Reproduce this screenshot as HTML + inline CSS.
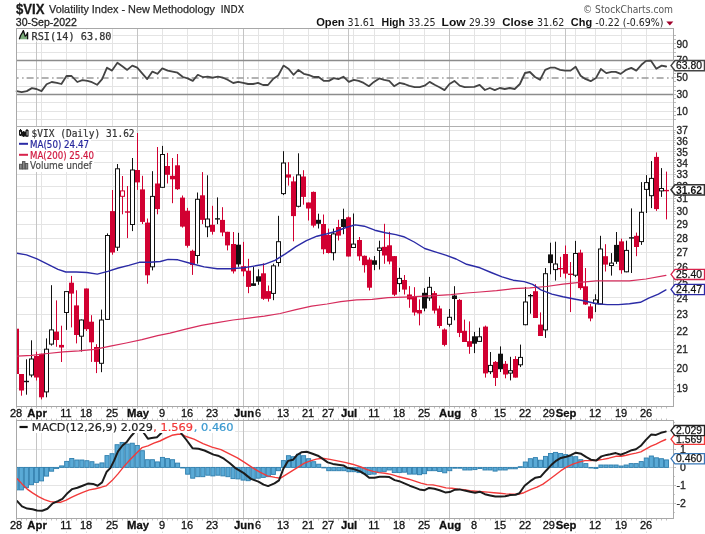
<!DOCTYPE html><html><head><meta charset="utf-8"><title>$VIX Chart</title><style>html,body{margin:0;padding:0;background:#fff;overflow:hidden}svg{display:block;will-change:transform}</style></head><body><svg width="705" height="534" viewBox="0 0 705 534" shape-rendering="auto">
<rect width="705" height="534" fill="#fff"/>
<defs><clipPath id="cp"><rect x="17" y="127" width="656" height="279"/></clipPath><clipPath id="cm"><rect x="17" y="421" width="656" height="97"/></clipPath><clipPath id="cr"><rect x="17" y="29" width="656" height="97"/></clipPath></defs>
<text x="16" y="14.2" font-size="15" font-weight="bold" fill="#1a1a1a" font-family="'Liberation Sans', Arial, sans-serif" textLength="28.5" lengthAdjust="spacingAndGlyphs" stroke="#1a1a1a" stroke-width="0.3">$VIX</text>
<text x="49" y="13.1" font-size="11.2" fill="#2a2a2a" font-family="'Liberation Sans', Arial, sans-serif" textLength="166" lengthAdjust="spacingAndGlyphs" stroke="#2a2a2a" stroke-width="0.25">Volatility Index - New Methodology</text>
<text x="220.8" y="12.9" font-size="9.6" fill="#222" font-family="'DejaVu Sans', Verdana, sans-serif" textLength="23.2" lengthAdjust="spacingAndGlyphs" stroke="#222" stroke-width="0.2">INDX</text>
<text x="15.8" y="26" font-size="11" fill="#222" font-family="'Liberation Sans', Arial, sans-serif" textLength="61" lengthAdjust="spacingAndGlyphs" stroke="#222" stroke-width="0.3">30-Sep-2022</text>
<text x="316.2" y="26.2" font-size="11" font-weight="bold" fill="#111" font-family="'Liberation Sans', Arial, sans-serif" textLength="28.5" lengthAdjust="spacingAndGlyphs">Open</text>
<text x="347.6" y="26.2" font-size="9.6" fill="#222" font-family="'DejaVu Sans', Verdana, sans-serif" textLength="27.3" lengthAdjust="spacingAndGlyphs">31.61</text>
<text x="381.5" y="26.2" font-size="11" font-weight="bold" fill="#111" font-family="'Liberation Sans', Arial, sans-serif" textLength="23.5" lengthAdjust="spacingAndGlyphs">High</text>
<text x="408.3" y="26.2" font-size="9.6" fill="#222" font-family="'DejaVu Sans', Verdana, sans-serif" textLength="27.3" lengthAdjust="spacingAndGlyphs">33.25</text>
<text x="441.6" y="26.2" font-size="11" font-weight="bold" fill="#111" font-family="'Liberation Sans', Arial, sans-serif" textLength="24" lengthAdjust="spacingAndGlyphs">Low</text>
<text x="469" y="26.2" font-size="9.6" fill="#222" font-family="'DejaVu Sans', Verdana, sans-serif" textLength="26.3" lengthAdjust="spacingAndGlyphs">29.39</text>
<text x="502.3" y="26.2" font-size="11" font-weight="bold" fill="#111" font-family="'Liberation Sans', Arial, sans-serif" textLength="31.3" lengthAdjust="spacingAndGlyphs">Close</text>
<text x="537" y="26.2" font-size="9.6" fill="#222" font-family="'DejaVu Sans', Verdana, sans-serif" textLength="27.3" lengthAdjust="spacingAndGlyphs">31.62</text>
<text x="570.8" y="26.2" font-size="11" font-weight="bold" fill="#111" font-family="'Liberation Sans', Arial, sans-serif" textLength="21.3" lengthAdjust="spacingAndGlyphs">Chg</text>
<text x="595.3" y="26.2" font-size="9.6" fill="#222" font-family="'DejaVu Sans', Verdana, sans-serif" textLength="68.2" lengthAdjust="spacingAndGlyphs">-0.22 (-0.69%)</text>
<path d="M666.3,21.4 L673.3,21.4 L669.8,25.6 Z" fill="#a0002a"/>
<text x="583" y="12.9" font-size="10.6" fill="#555" font-family="'DejaVu Sans', Verdana, sans-serif" textLength="90" lengthAdjust="spacingAndGlyphs">&#169; StockCharts.com</text>
<line x1="16" y1="119.5" x2="673" y2="119.5" stroke="#e4e4e4" stroke-width="1"/>
<line x1="16" y1="111.5" x2="673" y2="111.5" stroke="#e4e4e4" stroke-width="1"/>
<line x1="16" y1="102.5" x2="673" y2="102.5" stroke="#e4e4e4" stroke-width="1"/>
<line x1="16" y1="86.5" x2="673" y2="86.5" stroke="#e4e4e4" stroke-width="1"/>
<line x1="16" y1="69.5" x2="673" y2="69.5" stroke="#e4e4e4" stroke-width="1"/>
<line x1="16" y1="52.5" x2="673" y2="52.5" stroke="#e4e4e4" stroke-width="1"/>
<line x1="16" y1="43.5" x2="673" y2="43.5" stroke="#e4e4e4" stroke-width="1"/>
<line x1="16" y1="35.5" x2="673" y2="35.5" stroke="#e4e4e4" stroke-width="1"/>
<line x1="41.5" y1="28" x2="41.5" y2="126" stroke="#e4e4e4" stroke-width="1"/>
<line x1="66.5" y1="28" x2="66.5" y2="126" stroke="#e4e4e4" stroke-width="1"/>
<line x1="86.5" y1="28" x2="86.5" y2="126" stroke="#e4e4e4" stroke-width="1"/>
<line x1="112.5" y1="28" x2="112.5" y2="126" stroke="#e4e4e4" stroke-width="1"/>
<line x1="162.5" y1="28" x2="162.5" y2="126" stroke="#e4e4e4" stroke-width="1"/>
<line x1="187.5" y1="28" x2="187.5" y2="126" stroke="#e4e4e4" stroke-width="1"/>
<line x1="212.5" y1="28" x2="212.5" y2="126" stroke="#e4e4e4" stroke-width="1"/>
<line x1="238.5" y1="28" x2="238.5" y2="126" stroke="#e4e4e4" stroke-width="1"/>
<line x1="258.5" y1="28" x2="258.5" y2="126" stroke="#e4e4e4" stroke-width="1"/>
<line x1="283.5" y1="28" x2="283.5" y2="126" stroke="#e4e4e4" stroke-width="1"/>
<line x1="308.5" y1="28" x2="308.5" y2="126" stroke="#e4e4e4" stroke-width="1"/>
<line x1="328.5" y1="28" x2="328.5" y2="126" stroke="#e4e4e4" stroke-width="1"/>
<line x1="353.5" y1="28" x2="353.5" y2="126" stroke="#e4e4e4" stroke-width="1"/>
<line x1="374.5" y1="28" x2="374.5" y2="126" stroke="#e4e4e4" stroke-width="1"/>
<line x1="399.5" y1="28" x2="399.5" y2="126" stroke="#e4e4e4" stroke-width="1"/>
<line x1="424.5" y1="28" x2="424.5" y2="126" stroke="#e4e4e4" stroke-width="1"/>
<line x1="474.5" y1="28" x2="474.5" y2="126" stroke="#e4e4e4" stroke-width="1"/>
<line x1="500.5" y1="28" x2="500.5" y2="126" stroke="#e4e4e4" stroke-width="1"/>
<line x1="525.5" y1="28" x2="525.5" y2="126" stroke="#e4e4e4" stroke-width="1"/>
<line x1="550.5" y1="28" x2="550.5" y2="126" stroke="#e4e4e4" stroke-width="1"/>
<line x1="575.5" y1="28" x2="575.5" y2="126" stroke="#e4e4e4" stroke-width="1"/>
<line x1="595.5" y1="28" x2="595.5" y2="126" stroke="#e4e4e4" stroke-width="1"/>
<line x1="621.5" y1="28" x2="621.5" y2="126" stroke="#e4e4e4" stroke-width="1"/>
<line x1="646.5" y1="28" x2="646.5" y2="126" stroke="#e4e4e4" stroke-width="1"/>
<line x1="36.5" y1="28" x2="36.5" y2="126" stroke="#c4c4c4" stroke-width="1"/>
<line x1="137.5" y1="28" x2="137.5" y2="126" stroke="#c4c4c4" stroke-width="1"/>
<line x1="243.5" y1="28" x2="243.5" y2="126" stroke="#c4c4c4" stroke-width="1"/>
<line x1="348.5" y1="28" x2="348.5" y2="126" stroke="#c4c4c4" stroke-width="1"/>
<line x1="449.5" y1="28" x2="449.5" y2="126" stroke="#c4c4c4" stroke-width="1"/>
<line x1="565.5" y1="28" x2="565.5" y2="126" stroke="#c4c4c4" stroke-width="1"/>
<line x1="16" y1="60.5" x2="673" y2="60.5" stroke="#8c8c8c" stroke-width="1.6"/>
<line x1="16" y1="94.5" x2="673" y2="94.5" stroke="#8c8c8c" stroke-width="1.6"/>
<line x1="16" y1="78" x2="673" y2="78" stroke="#999" stroke-width="1.4" stroke-dasharray="7,3.5,1.5,3" stroke-dashoffset="4.4"/>
<polyline points="16.6,91.1 21.7,92.2 26.8,91.1 31.9,88.1 36.4,89.0 41.5,91.1 46.6,84.3 51.7,82.0 56.9,82.8 61.4,84.0 66.5,76.0 71.6,76.0 77.3,82.0 82.4,80.2 87.5,80.9 92.0,82.2 97.1,84.8 102.1,79.1 107.0,67.7 112.0,70.6 117.4,62.8 122.3,66.3 127.2,69.9 132.3,65.6 137.2,67.7 142.2,73.4 147.2,79.1 152.4,71.6 157.4,73.8 162.3,68.4 167.7,70.6 172.6,71.6 177.5,72.7 182.9,77.0 187.6,78.4 192.8,80.9 197.8,74.8 203.2,77.2 207.7,76.7 212.7,77.7 217.9,76.7 223.0,77.7 227.6,79.8 233.2,83.0 238.2,81.9 243.2,82.9 248.1,84.0 253.1,84.0 258.0,82.9 263.0,85.0 268.0,85.0 273.0,79.1 278.2,75.5 283.5,65.6 288.8,69.1 293.5,74.8 298.4,69.9 303.8,73.8 309.1,75.1 314.0,77.0 318.6,77.0 324.0,80.9 328.9,80.9 333.9,78.1 338.4,79.1 343.4,76.7 348.8,81.9 353.8,79.8 358.7,80.9 363.7,82.9 368.9,86.2 373.9,81.9 379.3,78.4 384.2,79.8 389.2,80.9 394.1,86.2 399.4,82.9 404.5,84.0 409.3,85.9 414.7,87.2 419.7,87.2 424.6,85.7 429.6,81.9 434.6,84.8 439.5,87.2 444.5,90.1 449.5,84.0 454.4,80.9 459.7,85.7 464.6,87.2 474.3,86.9 479.6,84.8 484.9,90.0 489.9,88.0 494.8,90.1 499.8,88.0 504.8,89.0 509.7,88.0 514.7,89.0 519.9,84.0 525.0,73.0 529.9,72.0 535.0,77.0 540.0,79.8 545.2,69.9 550.1,67.7 555.1,67.7 560.1,69.9 565.0,70.6 570.5,70.6 575.6,66.8 580.6,75.7 585.3,78.9 590.7,81.2 595.9,78.1 600.9,69.0 606.3,73.1 611.5,71.8 615.7,71.8 620.7,73.9 626.2,69.8 631.3,67.9 636.3,70.6 641.4,64.8 646.1,60.9 650.8,60.6 656.3,68.7 661.7,65.6 666.1,66.5" fill="none" stroke="#444" stroke-width="1.8" stroke-linejoin="round" stroke-linecap="round"/>
<line x1="673" y1="119.5" x2="676" y2="119.5" stroke="#bbb" stroke-width="1"/>
<line x1="673" y1="115.5" x2="676" y2="115.5" stroke="#bbb" stroke-width="1"/>
<line x1="673" y1="111.5" x2="676" y2="111.5" stroke="#bbb" stroke-width="1"/>
<line x1="673" y1="107.5" x2="676" y2="107.5" stroke="#bbb" stroke-width="1"/>
<line x1="673" y1="102.5" x2="676" y2="102.5" stroke="#bbb" stroke-width="1"/>
<line x1="673" y1="98.5" x2="676" y2="98.5" stroke="#bbb" stroke-width="1"/>
<line x1="673" y1="94.5" x2="676" y2="94.5" stroke="#bbb" stroke-width="1"/>
<line x1="673" y1="90.5" x2="676" y2="90.5" stroke="#bbb" stroke-width="1"/>
<line x1="673" y1="86.5" x2="676" y2="86.5" stroke="#bbb" stroke-width="1"/>
<line x1="673" y1="81.5" x2="676" y2="81.5" stroke="#bbb" stroke-width="1"/>
<line x1="673" y1="77.5" x2="676" y2="77.5" stroke="#bbb" stroke-width="1"/>
<line x1="673" y1="73.5" x2="676" y2="73.5" stroke="#bbb" stroke-width="1"/>
<line x1="673" y1="69.5" x2="676" y2="69.5" stroke="#bbb" stroke-width="1"/>
<line x1="673" y1="65.5" x2="676" y2="65.5" stroke="#bbb" stroke-width="1"/>
<line x1="673" y1="60.5" x2="676" y2="60.5" stroke="#bbb" stroke-width="1"/>
<line x1="673" y1="56.5" x2="676" y2="56.5" stroke="#bbb" stroke-width="1"/>
<line x1="673" y1="52.5" x2="676" y2="52.5" stroke="#bbb" stroke-width="1"/>
<line x1="673" y1="48.5" x2="676" y2="48.5" stroke="#bbb" stroke-width="1"/>
<line x1="673" y1="43.5" x2="676" y2="43.5" stroke="#bbb" stroke-width="1"/>
<line x1="673" y1="39.5" x2="676" y2="39.5" stroke="#bbb" stroke-width="1"/>
<line x1="673" y1="35.5" x2="676" y2="35.5" stroke="#bbb" stroke-width="1"/>
<text x="676.5" y="47.629999999999995" font-size="10.5" fill="#222" font-family="'Liberation Sans', Arial, sans-serif" textLength="11.3" lengthAdjust="spacingAndGlyphs" stroke="#222" stroke-width="0.3">90</text>
<text x="676.5" y="64.49" font-size="10.5" fill="#222" font-family="'Liberation Sans', Arial, sans-serif" textLength="11.3" lengthAdjust="spacingAndGlyphs" stroke="#222" stroke-width="0.3">70</text>
<text x="676.5" y="81.35000000000001" font-size="10.5" fill="#222" font-family="'Liberation Sans', Arial, sans-serif" textLength="11.3" lengthAdjust="spacingAndGlyphs" stroke="#222" stroke-width="0.3">50</text>
<text x="676.5" y="98.21" font-size="10.5" fill="#222" font-family="'Liberation Sans', Arial, sans-serif" textLength="11.3" lengthAdjust="spacingAndGlyphs" stroke="#222" stroke-width="0.3">30</text>
<text x="676.5" y="115.07000000000001" font-size="10.5" fill="#222" font-family="'Liberation Sans', Arial, sans-serif" textLength="11.3" lengthAdjust="spacingAndGlyphs" stroke="#222" stroke-width="0.3">10</text>
<line x1="16" y1="388.5" x2="673" y2="388.5" stroke="#e4e4e4" stroke-width="1"/>
<line x1="16" y1="368.5" x2="673" y2="368.5" stroke="#e4e4e4" stroke-width="1"/>
<line x1="16" y1="349.5" x2="673" y2="349.5" stroke="#e4e4e4" stroke-width="1"/>
<line x1="16" y1="331.5" x2="673" y2="331.5" stroke="#e4e4e4" stroke-width="1"/>
<line x1="16" y1="314.5" x2="673" y2="314.5" stroke="#e4e4e4" stroke-width="1"/>
<line x1="16" y1="297.5" x2="673" y2="297.5" stroke="#e4e4e4" stroke-width="1"/>
<line x1="16" y1="281.5" x2="673" y2="281.5" stroke="#e4e4e4" stroke-width="1"/>
<line x1="16" y1="266.5" x2="673" y2="266.5" stroke="#e4e4e4" stroke-width="1"/>
<line x1="16" y1="252.5" x2="673" y2="252.5" stroke="#e4e4e4" stroke-width="1"/>
<line x1="16" y1="238.5" x2="673" y2="238.5" stroke="#e4e4e4" stroke-width="1"/>
<line x1="16" y1="224.5" x2="673" y2="224.5" stroke="#e4e4e4" stroke-width="1"/>
<line x1="16" y1="211.5" x2="673" y2="211.5" stroke="#e4e4e4" stroke-width="1"/>
<line x1="16" y1="198.5" x2="673" y2="198.5" stroke="#e4e4e4" stroke-width="1"/>
<line x1="16" y1="186.5" x2="673" y2="186.5" stroke="#e4e4e4" stroke-width="1"/>
<line x1="16" y1="174.5" x2="673" y2="174.5" stroke="#e4e4e4" stroke-width="1"/>
<line x1="16" y1="162.5" x2="673" y2="162.5" stroke="#e4e4e4" stroke-width="1"/>
<line x1="16" y1="151.5" x2="673" y2="151.5" stroke="#e4e4e4" stroke-width="1"/>
<line x1="16" y1="140.5" x2="673" y2="140.5" stroke="#e4e4e4" stroke-width="1"/>
<line x1="16" y1="130.5" x2="673" y2="130.5" stroke="#e4e4e4" stroke-width="1"/>
<line x1="41.5" y1="126" x2="41.5" y2="406" stroke="#e4e4e4" stroke-width="1"/>
<line x1="66.5" y1="126" x2="66.5" y2="406" stroke="#e4e4e4" stroke-width="1"/>
<line x1="86.5" y1="126" x2="86.5" y2="406" stroke="#e4e4e4" stroke-width="1"/>
<line x1="112.5" y1="126" x2="112.5" y2="406" stroke="#e4e4e4" stroke-width="1"/>
<line x1="162.5" y1="126" x2="162.5" y2="406" stroke="#e4e4e4" stroke-width="1"/>
<line x1="187.5" y1="126" x2="187.5" y2="406" stroke="#e4e4e4" stroke-width="1"/>
<line x1="212.5" y1="126" x2="212.5" y2="406" stroke="#e4e4e4" stroke-width="1"/>
<line x1="238.5" y1="126" x2="238.5" y2="406" stroke="#e4e4e4" stroke-width="1"/>
<line x1="258.5" y1="126" x2="258.5" y2="406" stroke="#e4e4e4" stroke-width="1"/>
<line x1="283.5" y1="126" x2="283.5" y2="406" stroke="#e4e4e4" stroke-width="1"/>
<line x1="308.5" y1="126" x2="308.5" y2="406" stroke="#e4e4e4" stroke-width="1"/>
<line x1="328.5" y1="126" x2="328.5" y2="406" stroke="#e4e4e4" stroke-width="1"/>
<line x1="353.5" y1="126" x2="353.5" y2="406" stroke="#e4e4e4" stroke-width="1"/>
<line x1="374.5" y1="126" x2="374.5" y2="406" stroke="#e4e4e4" stroke-width="1"/>
<line x1="399.5" y1="126" x2="399.5" y2="406" stroke="#e4e4e4" stroke-width="1"/>
<line x1="424.5" y1="126" x2="424.5" y2="406" stroke="#e4e4e4" stroke-width="1"/>
<line x1="474.5" y1="126" x2="474.5" y2="406" stroke="#e4e4e4" stroke-width="1"/>
<line x1="500.5" y1="126" x2="500.5" y2="406" stroke="#e4e4e4" stroke-width="1"/>
<line x1="525.5" y1="126" x2="525.5" y2="406" stroke="#e4e4e4" stroke-width="1"/>
<line x1="550.5" y1="126" x2="550.5" y2="406" stroke="#e4e4e4" stroke-width="1"/>
<line x1="575.5" y1="126" x2="575.5" y2="406" stroke="#e4e4e4" stroke-width="1"/>
<line x1="595.5" y1="126" x2="595.5" y2="406" stroke="#e4e4e4" stroke-width="1"/>
<line x1="621.5" y1="126" x2="621.5" y2="406" stroke="#e4e4e4" stroke-width="1"/>
<line x1="646.5" y1="126" x2="646.5" y2="406" stroke="#e4e4e4" stroke-width="1"/>
<line x1="36.5" y1="126" x2="36.5" y2="406" stroke="#c4c4c4" stroke-width="1"/>
<line x1="137.5" y1="126" x2="137.5" y2="406" stroke="#c4c4c4" stroke-width="1"/>
<line x1="243.5" y1="126" x2="243.5" y2="406" stroke="#c4c4c4" stroke-width="1"/>
<line x1="348.5" y1="126" x2="348.5" y2="406" stroke="#c4c4c4" stroke-width="1"/>
<line x1="449.5" y1="126" x2="449.5" y2="406" stroke="#c4c4c4" stroke-width="1"/>
<line x1="565.5" y1="126" x2="565.5" y2="406" stroke="#c4c4c4" stroke-width="1"/>
<line x1="673" y1="388.5" x2="676" y2="388.5" stroke="#bbb" stroke-width="1"/>
<text x="676.5" y="391.9273472559024" font-size="10.5" fill="#222" font-family="'Liberation Sans', Arial, sans-serif" textLength="11.3" lengthAdjust="spacingAndGlyphs" stroke="#222" stroke-width="0.3">19</text>
<line x1="673" y1="368.5" x2="676" y2="368.5" stroke="#bbb" stroke-width="1"/>
<text x="676.5" y="372.07684232792036" font-size="10.5" fill="#222" font-family="'Liberation Sans', Arial, sans-serif" textLength="11.3" lengthAdjust="spacingAndGlyphs" stroke="#222" stroke-width="0.3">20</text>
<line x1="673" y1="349.5" x2="676" y2="349.5" stroke="#bbb" stroke-width="1"/>
<text x="676.5" y="353.19504879435016" font-size="10.5" fill="#222" font-family="'Liberation Sans', Arial, sans-serif" textLength="11.3" lengthAdjust="spacingAndGlyphs" stroke="#222" stroke-width="0.3">21</text>
<line x1="673" y1="331.5" x2="676" y2="331.5" stroke="#bbb" stroke-width="1"/>
<text x="676.5" y="335.19180274364663" font-size="10.5" fill="#222" font-family="'Liberation Sans', Arial, sans-serif" textLength="11.3" lengthAdjust="spacingAndGlyphs" stroke="#222" stroke-width="0.3">22</text>
<line x1="673" y1="314.5" x2="676" y2="314.5" stroke="#bbb" stroke-width="1"/>
<text x="676.5" y="317.98897062873397" font-size="10.5" fill="#222" font-family="'Liberation Sans', Arial, sans-serif" textLength="11.3" lengthAdjust="spacingAndGlyphs" stroke="#222" stroke-width="0.3">23</text>
<line x1="673" y1="297.5" x2="676" y2="297.5" stroke="#bbb" stroke-width="1"/>
<text x="676.5" y="301.51839984865995" font-size="10.5" fill="#222" font-family="'Liberation Sans', Arial, sans-serif" textLength="11.3" lengthAdjust="spacingAndGlyphs" stroke="#222" stroke-width="0.3">24</text>
<line x1="673" y1="281.5" x2="676" y2="281.5" stroke="#bbb" stroke-width="1"/>
<text x="676.5" y="285.7202879693212" font-size="10.5" fill="#222" font-family="'Liberation Sans', Arial, sans-serif" textLength="11.3" lengthAdjust="spacingAndGlyphs" stroke="#222" stroke-width="0.3">25</text>
<line x1="673" y1="266.5" x2="676" y2="266.5" stroke="#bbb" stroke-width="1"/>
<text x="676.5" y="270.5418719790013" font-size="10.5" fill="#222" font-family="'Liberation Sans', Arial, sans-serif" textLength="11.3" lengthAdjust="spacingAndGlyphs" stroke="#222" stroke-width="0.3">26</text>
<line x1="673" y1="252.5" x2="676" y2="252.5" stroke="#bbb" stroke-width="1"/>
<text x="676.5" y="255.93636504963953" font-size="10.5" fill="#222" font-family="'Liberation Sans', Arial, sans-serif" textLength="11.3" lengthAdjust="spacingAndGlyphs" stroke="#222" stroke-width="0.3">27</text>
<line x1="673" y1="238.5" x2="676" y2="238.5" stroke="#bbb" stroke-width="1"/>
<text x="676.5" y="241.86208675551092" font-size="10.5" fill="#222" font-family="'Liberation Sans', Arial, sans-serif" textLength="11.3" lengthAdjust="spacingAndGlyphs" stroke="#222" stroke-width="0.3">28</text>
<line x1="673" y1="224.5" x2="676" y2="224.5" stroke="#bbb" stroke-width="1"/>
<text x="676.5" y="228.28174598854946" font-size="10.5" fill="#222" font-family="'Liberation Sans', Arial, sans-serif" textLength="11.3" lengthAdjust="spacingAndGlyphs" stroke="#222" stroke-width="0.3">29</text>
<line x1="673" y1="211.5" x2="676" y2="211.5" stroke="#bbb" stroke-width="1"/>
<text x="676.5" y="215.16184549006073" font-size="10.5" fill="#222" font-family="'Liberation Sans', Arial, sans-serif" textLength="11.3" lengthAdjust="spacingAndGlyphs" stroke="#222" stroke-width="0.3">30</text>
<line x1="673" y1="198.5" x2="676" y2="198.5" stroke="#bbb" stroke-width="1"/>
<text x="676.5" y="202.47218405756328" font-size="10.5" fill="#222" font-family="'Liberation Sans', Arial, sans-serif" textLength="11.3" lengthAdjust="spacingAndGlyphs" stroke="#222" stroke-width="0.3">31</text>
<line x1="673" y1="186.5" x2="676" y2="186.5" stroke="#bbb" stroke-width="1"/>
<text x="676.5" y="190.18543780982068" font-size="10.5" fill="#222" font-family="'Liberation Sans', Arial, sans-serif" textLength="11.3" lengthAdjust="spacingAndGlyphs" stroke="#222" stroke-width="0.3">32</text>
<line x1="673" y1="174.5" x2="676" y2="174.5" stroke="#bbb" stroke-width="1"/>
<text x="676.5" y="178.27680590578697" font-size="10.5" fill="#222" font-family="'Liberation Sans', Arial, sans-serif" textLength="11.3" lengthAdjust="spacingAndGlyphs" stroke="#222" stroke-width="0.3">33</text>
<line x1="673" y1="162.5" x2="676" y2="162.5" stroke="#bbb" stroke-width="1"/>
<text x="676.5" y="166.72370916686037" font-size="10.5" fill="#222" font-family="'Liberation Sans', Arial, sans-serif" textLength="11.3" lengthAdjust="spacingAndGlyphs" stroke="#222" stroke-width="0.3">34</text>
<line x1="673" y1="151.5" x2="676" y2="151.5" stroke="#bbb" stroke-width="1"/>
<text x="676.5" y="155.50553239691178" font-size="10.5" fill="#222" font-family="'Liberation Sans', Arial, sans-serif" textLength="11.3" lengthAdjust="spacingAndGlyphs" stroke="#222" stroke-width="0.3">35</text>
<line x1="673" y1="140.5" x2="676" y2="140.5" stroke="#bbb" stroke-width="1"/>
<text x="676.5" y="144.60340301080026" font-size="10.5" fill="#222" font-family="'Liberation Sans', Arial, sans-serif" textLength="11.3" lengthAdjust="spacingAndGlyphs" stroke="#222" stroke-width="0.3">36</text>
<line x1="673" y1="130.5" x2="676" y2="130.5" stroke="#bbb" stroke-width="1"/>
<text x="676.5" y="134.0" font-size="10.5" fill="#222" font-family="'Liberation Sans', Arial, sans-serif" textLength="11.3" lengthAdjust="spacingAndGlyphs" stroke="#222" stroke-width="0.3">37</text>
<line x1="673" y1="396.5" x2="675" y2="396.5" stroke="#c8c8c8" stroke-width="1"/>
<line x1="673" y1="392.5" x2="675" y2="392.5" stroke="#c8c8c8" stroke-width="1"/>
<line x1="673" y1="384.5" x2="675" y2="384.5" stroke="#c8c8c8" stroke-width="1"/>
<line x1="673" y1="380.5" x2="675" y2="380.5" stroke="#c8c8c8" stroke-width="1"/>
<line x1="673" y1="376.5" x2="675" y2="376.5" stroke="#c8c8c8" stroke-width="1"/>
<line x1="673" y1="372.5" x2="675" y2="372.5" stroke="#c8c8c8" stroke-width="1"/>
<line x1="673" y1="364.5" x2="675" y2="364.5" stroke="#c8c8c8" stroke-width="1"/>
<line x1="673" y1="360.5" x2="675" y2="360.5" stroke="#c8c8c8" stroke-width="1"/>
<line x1="673" y1="356.5" x2="675" y2="356.5" stroke="#c8c8c8" stroke-width="1"/>
<line x1="673" y1="353.5" x2="675" y2="353.5" stroke="#c8c8c8" stroke-width="1"/>
<line x1="673" y1="345.5" x2="675" y2="345.5" stroke="#c8c8c8" stroke-width="1"/>
<line x1="673" y1="342.5" x2="675" y2="342.5" stroke="#c8c8c8" stroke-width="1"/>
<line x1="673" y1="338.5" x2="675" y2="338.5" stroke="#c8c8c8" stroke-width="1"/>
<line x1="673" y1="334.5" x2="675" y2="334.5" stroke="#c8c8c8" stroke-width="1"/>
<line x1="673" y1="327.5" x2="675" y2="327.5" stroke="#c8c8c8" stroke-width="1"/>
<line x1="673" y1="324.5" x2="675" y2="324.5" stroke="#c8c8c8" stroke-width="1"/>
<line x1="673" y1="320.5" x2="675" y2="320.5" stroke="#c8c8c8" stroke-width="1"/>
<line x1="673" y1="317.5" x2="675" y2="317.5" stroke="#c8c8c8" stroke-width="1"/>
<line x1="673" y1="310.5" x2="675" y2="310.5" stroke="#c8c8c8" stroke-width="1"/>
<line x1="673" y1="307.5" x2="675" y2="307.5" stroke="#c8c8c8" stroke-width="1"/>
<line x1="673" y1="304.5" x2="675" y2="304.5" stroke="#c8c8c8" stroke-width="1"/>
<line x1="673" y1="300.5" x2="675" y2="300.5" stroke="#c8c8c8" stroke-width="1"/>
<line x1="673" y1="294.5" x2="675" y2="294.5" stroke="#c8c8c8" stroke-width="1"/>
<line x1="673" y1="291.5" x2="675" y2="291.5" stroke="#c8c8c8" stroke-width="1"/>
<line x1="673" y1="288.5" x2="675" y2="288.5" stroke="#c8c8c8" stroke-width="1"/>
<line x1="673" y1="285.5" x2="675" y2="285.5" stroke="#c8c8c8" stroke-width="1"/>
<line x1="673" y1="278.5" x2="675" y2="278.5" stroke="#c8c8c8" stroke-width="1"/>
<line x1="673" y1="275.5" x2="675" y2="275.5" stroke="#c8c8c8" stroke-width="1"/>
<line x1="673" y1="272.5" x2="675" y2="272.5" stroke="#c8c8c8" stroke-width="1"/>
<line x1="673" y1="269.5" x2="675" y2="269.5" stroke="#c8c8c8" stroke-width="1"/>
<line x1="673" y1="263.5" x2="675" y2="263.5" stroke="#c8c8c8" stroke-width="1"/>
<line x1="673" y1="260.5" x2="675" y2="260.5" stroke="#c8c8c8" stroke-width="1"/>
<line x1="673" y1="257.5" x2="675" y2="257.5" stroke="#c8c8c8" stroke-width="1"/>
<line x1="673" y1="255.5" x2="675" y2="255.5" stroke="#c8c8c8" stroke-width="1"/>
<line x1="673" y1="249.5" x2="675" y2="249.5" stroke="#c8c8c8" stroke-width="1"/>
<line x1="673" y1="246.5" x2="675" y2="246.5" stroke="#c8c8c8" stroke-width="1"/>
<line x1="673" y1="243.5" x2="675" y2="243.5" stroke="#c8c8c8" stroke-width="1"/>
<line x1="673" y1="240.5" x2="675" y2="240.5" stroke="#c8c8c8" stroke-width="1"/>
<line x1="673" y1="235.5" x2="675" y2="235.5" stroke="#c8c8c8" stroke-width="1"/>
<line x1="673" y1="232.5" x2="675" y2="232.5" stroke="#c8c8c8" stroke-width="1"/>
<line x1="673" y1="229.5" x2="675" y2="229.5" stroke="#c8c8c8" stroke-width="1"/>
<line x1="673" y1="227.5" x2="675" y2="227.5" stroke="#c8c8c8" stroke-width="1"/>
<line x1="673" y1="221.5" x2="675" y2="221.5" stroke="#c8c8c8" stroke-width="1"/>
<line x1="673" y1="219.5" x2="675" y2="219.5" stroke="#c8c8c8" stroke-width="1"/>
<line x1="673" y1="216.5" x2="675" y2="216.5" stroke="#c8c8c8" stroke-width="1"/>
<line x1="673" y1="213.5" x2="675" y2="213.5" stroke="#c8c8c8" stroke-width="1"/>
<line x1="673" y1="208.5" x2="675" y2="208.5" stroke="#c8c8c8" stroke-width="1"/>
<line x1="673" y1="206.5" x2="675" y2="206.5" stroke="#c8c8c8" stroke-width="1"/>
<line x1="673" y1="203.5" x2="675" y2="203.5" stroke="#c8c8c8" stroke-width="1"/>
<line x1="673" y1="201.5" x2="675" y2="201.5" stroke="#c8c8c8" stroke-width="1"/>
<line x1="673" y1="196.5" x2="675" y2="196.5" stroke="#c8c8c8" stroke-width="1"/>
<line x1="673" y1="193.5" x2="675" y2="193.5" stroke="#c8c8c8" stroke-width="1"/>
<line x1="673" y1="191.5" x2="675" y2="191.5" stroke="#c8c8c8" stroke-width="1"/>
<line x1="673" y1="188.5" x2="675" y2="188.5" stroke="#c8c8c8" stroke-width="1"/>
<line x1="673" y1="183.5" x2="675" y2="183.5" stroke="#c8c8c8" stroke-width="1"/>
<line x1="673" y1="181.5" x2="675" y2="181.5" stroke="#c8c8c8" stroke-width="1"/>
<line x1="673" y1="179.5" x2="675" y2="179.5" stroke="#c8c8c8" stroke-width="1"/>
<line x1="673" y1="176.5" x2="675" y2="176.5" stroke="#c8c8c8" stroke-width="1"/>
<line x1="673" y1="172.5" x2="675" y2="172.5" stroke="#c8c8c8" stroke-width="1"/>
<line x1="673" y1="169.5" x2="675" y2="169.5" stroke="#c8c8c8" stroke-width="1"/>
<line x1="673" y1="167.5" x2="675" y2="167.5" stroke="#c8c8c8" stroke-width="1"/>
<line x1="673" y1="165.5" x2="675" y2="165.5" stroke="#c8c8c8" stroke-width="1"/>
<line x1="673" y1="160.5" x2="675" y2="160.5" stroke="#c8c8c8" stroke-width="1"/>
<line x1="673" y1="158.5" x2="675" y2="158.5" stroke="#c8c8c8" stroke-width="1"/>
<line x1="673" y1="156.5" x2="675" y2="156.5" stroke="#c8c8c8" stroke-width="1"/>
<line x1="673" y1="153.5" x2="675" y2="153.5" stroke="#c8c8c8" stroke-width="1"/>
<line x1="673" y1="149.5" x2="675" y2="149.5" stroke="#c8c8c8" stroke-width="1"/>
<line x1="673" y1="147.5" x2="675" y2="147.5" stroke="#c8c8c8" stroke-width="1"/>
<line x1="673" y1="145.5" x2="675" y2="145.5" stroke="#c8c8c8" stroke-width="1"/>
<line x1="673" y1="142.5" x2="675" y2="142.5" stroke="#c8c8c8" stroke-width="1"/>
<line x1="673" y1="138.5" x2="675" y2="138.5" stroke="#c8c8c8" stroke-width="1"/>
<line x1="673" y1="136.5" x2="675" y2="136.5" stroke="#c8c8c8" stroke-width="1"/>
<line x1="673" y1="134.5" x2="675" y2="134.5" stroke="#c8c8c8" stroke-width="1"/>
<line x1="673" y1="132.5" x2="675" y2="132.5" stroke="#c8c8c8" stroke-width="1"/>
<g clip-path="url(#cp)">
<line x1="16.5" y1="328.7" x2="16.5" y2="374.0" stroke="#d10031" stroke-width="1"/>
<rect x="14" y="328.7" width="5" height="45.3" fill="#d10031"/>
<line x1="21.5" y1="374.0" x2="21.5" y2="395.7" stroke="#d10031" stroke-width="1"/>
<rect x="19" y="374.0" width="5" height="16.5" fill="#d10031"/>
<line x1="26.5" y1="359.3" x2="26.5" y2="394.7" stroke="#111" stroke-width="1"/>
<line x1="24" y1="381.5" x2="29" y2="381.5" stroke="#111" stroke-width="1.4"/>
<line x1="31.5" y1="340.3" x2="31.5" y2="377.3" stroke="#111" stroke-width="1"/>
<rect x="29.5" y="359.0" width="4" height="16.0" fill="#fff" stroke="#111" stroke-width="1"/>
<line x1="36.5" y1="351.7" x2="36.5" y2="380.5" stroke="#d10031" stroke-width="1"/>
<rect x="34" y="356.0" width="5" height="21.5" fill="#d10031"/>
<line x1="41.5" y1="353.8" x2="41.5" y2="399.4" stroke="#d10031" stroke-width="1"/>
<rect x="39" y="353.8" width="5" height="43.5" fill="#d10031"/>
<line x1="46.5" y1="338.4" x2="46.5" y2="397.3" stroke="#111" stroke-width="1"/>
<rect x="44.5" y="349.2" width="4" height="42.7" fill="#fff" stroke="#111" stroke-width="1"/>
<line x1="51.5" y1="285.2" x2="51.5" y2="345.6" stroke="#111" stroke-width="1"/>
<rect x="49.5" y="329.9" width="4" height="14.2" fill="#fff" stroke="#111" stroke-width="1"/>
<line x1="56.5" y1="300.4" x2="56.5" y2="346.8" stroke="#d10031" stroke-width="1"/>
<rect x="54" y="331.6" width="5" height="8.4" fill="#d10031"/>
<line x1="61.5" y1="325.7" x2="61.5" y2="362.0" stroke="#d10031" stroke-width="1"/>
<rect x="59" y="344.9" width="5" height="2.6" fill="#d10031"/>
<line x1="66.5" y1="291.1" x2="66.5" y2="329.9" stroke="#111" stroke-width="1"/>
<rect x="64.5" y="291.6" width="4" height="20.9" fill="#fff" stroke="#111" stroke-width="1"/>
<line x1="71.5" y1="275.9" x2="71.5" y2="327.4" stroke="#d10031" stroke-width="1"/>
<rect x="69" y="282.7" width="5" height="10.9" fill="#d10031"/>
<line x1="76.5" y1="290.3" x2="76.5" y2="343.4" stroke="#d10031" stroke-width="1"/>
<rect x="74" y="305.4" width="5" height="29.6" fill="#d10031"/>
<line x1="81.5" y1="319.5" x2="81.5" y2="351.6" stroke="#111" stroke-width="1"/>
<rect x="79.5" y="320.0" width="4" height="16.2" fill="#fff" stroke="#111" stroke-width="1"/>
<line x1="86.5" y1="288.5" x2="86.5" y2="331.0" stroke="#d10031" stroke-width="1"/>
<rect x="84" y="288.5" width="5" height="40.7" fill="#d10031"/>
<line x1="91.5" y1="315.2" x2="91.5" y2="361.9" stroke="#d10031" stroke-width="1"/>
<rect x="89" y="321.7" width="5" height="20.6" fill="#d10031"/>
<line x1="96.5" y1="344.2" x2="96.5" y2="373.1" stroke="#d10031" stroke-width="1"/>
<rect x="94" y="347.0" width="5" height="14.9" fill="#d10031"/>
<line x1="101.5" y1="309.6" x2="101.5" y2="372.2" stroke="#111" stroke-width="1"/>
<rect x="99.5" y="320.0" width="4" height="43.3" fill="#fff" stroke="#111" stroke-width="1"/>
<line x1="107.5" y1="233.4" x2="107.5" y2="320.0" stroke="#111" stroke-width="1"/>
<rect x="105.5" y="235.5" width="4" height="83.9" fill="#fff" stroke="#111" stroke-width="1"/>
<line x1="112.5" y1="190.0" x2="112.5" y2="254.7" stroke="#d10031" stroke-width="1"/>
<rect x="110" y="211.1" width="5" height="41.4" fill="#d10031"/>
<line x1="117.5" y1="164.0" x2="117.5" y2="250.9" stroke="#111" stroke-width="1"/>
<rect x="115.5" y="168.8" width="4" height="78.4" fill="#fff" stroke="#111" stroke-width="1"/>
<line x1="122.5" y1="176.0" x2="122.5" y2="214.3" stroke="#d10031" stroke-width="1"/>
<rect x="120.5" y="190.9" width="4" height="5.4" fill="#fff" stroke="#d10031" stroke-width="1"/>
<line x1="127.5" y1="186.0" x2="127.5" y2="238.1" stroke="#d10031" stroke-width="1"/>
<line x1="125" y1="212.0" x2="130" y2="212.0" stroke="#d10031" stroke-width="1.4"/>
<line x1="132.5" y1="158.0" x2="132.5" y2="231.1" stroke="#111" stroke-width="1"/>
<rect x="130.5" y="170.0" width="4" height="54.5" fill="#fff" stroke="#111" stroke-width="1"/>
<line x1="137.5" y1="133.0" x2="137.5" y2="189.9" stroke="#d10031" stroke-width="1"/>
<rect x="135" y="170.0" width="5" height="12.4" fill="#d10031"/>
<line x1="142.5" y1="175.8" x2="142.5" y2="224.0" stroke="#d10031" stroke-width="1"/>
<rect x="140" y="189.4" width="5" height="32.5" fill="#d10031"/>
<line x1="147.5" y1="218.5" x2="147.5" y2="283.7" stroke="#d10031" stroke-width="1"/>
<rect x="145" y="222.6" width="5" height="52.7" fill="#d10031"/>
<line x1="152.5" y1="171.2" x2="152.5" y2="270.4" stroke="#111" stroke-width="1"/>
<rect x="150.5" y="196.4" width="4" height="70.4" fill="#fff" stroke="#111" stroke-width="1"/>
<line x1="157.5" y1="147.0" x2="157.5" y2="214.3" stroke="#d10031" stroke-width="1"/>
<rect x="155" y="183.5" width="5" height="25.6" fill="#d10031"/>
<line x1="162.5" y1="145.9" x2="162.5" y2="187.8" stroke="#111" stroke-width="1"/>
<rect x="160.5" y="154.5" width="4" height="32.8" fill="#fff" stroke="#111" stroke-width="1"/>
<line x1="167.5" y1="152.9" x2="167.5" y2="183.5" stroke="#d10031" stroke-width="1"/>
<rect x="165" y="166.0" width="5" height="8.8" fill="#d10031"/>
<line x1="172.5" y1="158.0" x2="172.5" y2="203.2" stroke="#d10031" stroke-width="1"/>
<rect x="170" y="175.8" width="5" height="3.5" fill="#d10031"/>
<line x1="177.5" y1="154.0" x2="177.5" y2="189.9" stroke="#d10031" stroke-width="1"/>
<rect x="175" y="165.3" width="5" height="23.9" fill="#d10031"/>
<line x1="182.5" y1="195.5" x2="182.5" y2="227.6" stroke="#d10031" stroke-width="1"/>
<rect x="180" y="197.6" width="5" height="29.0" fill="#d10031"/>
<line x1="187.5" y1="207.9" x2="187.5" y2="247.6" stroke="#d10031" stroke-width="1"/>
<rect x="185" y="210.7" width="5" height="35.1" fill="#d10031"/>
<line x1="192.5" y1="249.7" x2="192.5" y2="274.9" stroke="#d10031" stroke-width="1"/>
<rect x="190" y="250.8" width="5" height="14.3" fill="#d10031"/>
<line x1="197.5" y1="192.5" x2="197.5" y2="263.7" stroke="#111" stroke-width="1"/>
<rect x="195.5" y="199.3" width="4" height="56.2" fill="#fff" stroke="#111" stroke-width="1"/>
<line x1="202.5" y1="172.1" x2="202.5" y2="224.1" stroke="#d10031" stroke-width="1"/>
<rect x="200" y="195.3" width="5" height="24.6" fill="#d10031"/>
<line x1="207.5" y1="175.3" x2="207.5" y2="237.2" stroke="#111" stroke-width="1"/>
<rect x="205.5" y="219.0" width="4" height="7.8" fill="#fff" stroke="#111" stroke-width="1"/>
<line x1="212.5" y1="205.8" x2="212.5" y2="234.6" stroke="#d10031" stroke-width="1"/>
<rect x="210" y="224.8" width="5" height="7.0" fill="#d10031"/>
<line x1="217.5" y1="197.4" x2="217.5" y2="224.1" stroke="#111" stroke-width="1"/>
<line x1="215" y1="218.9" x2="220" y2="218.9" stroke="#111" stroke-width="1.4"/>
<line x1="222.5" y1="207.2" x2="222.5" y2="236.2" stroke="#d10031" stroke-width="1"/>
<rect x="220" y="219.9" width="5" height="12.6" fill="#d10031"/>
<line x1="227.5" y1="231.8" x2="227.5" y2="250.4" stroke="#d10031" stroke-width="1"/>
<rect x="225" y="231.8" width="5" height="13.6" fill="#d10031"/>
<line x1="233.5" y1="232.0" x2="233.5" y2="273.5" stroke="#d10031" stroke-width="1"/>
<rect x="231" y="244.0" width="5" height="27.4" fill="#d10031"/>
<line x1="238.5" y1="232.8" x2="238.5" y2="266.8" stroke="#111" stroke-width="1"/>
<rect x="236" y="244.7" width="5" height="19.7" fill="#111"/>
<line x1="243.5" y1="241.9" x2="243.5" y2="276.3" stroke="#d10031" stroke-width="1"/>
<rect x="241" y="266.2" width="5" height="5.2" fill="#d10031"/>
<line x1="248.5" y1="258.8" x2="248.5" y2="293.2" stroke="#d10031" stroke-width="1"/>
<rect x="246" y="270.7" width="5" height="16.2" fill="#d10031"/>
<line x1="253.5" y1="266.8" x2="253.5" y2="285.9" stroke="#111" stroke-width="1"/>
<rect x="251" y="283.3" width="5" height="2.6" fill="#111"/>
<line x1="258.5" y1="269.3" x2="258.5" y2="284.8" stroke="#111" stroke-width="1"/>
<rect x="256" y="276.3" width="5" height="5.4" fill="#111"/>
<line x1="263.5" y1="263.4" x2="263.5" y2="299.9" stroke="#d10031" stroke-width="1"/>
<rect x="261" y="273.3" width="5" height="25.5" fill="#d10031"/>
<line x1="268.5" y1="285.5" x2="268.5" y2="301.6" stroke="#d10031" stroke-width="1"/>
<rect x="266" y="291.1" width="5" height="7.7" fill="#d10031"/>
<line x1="273.5" y1="263.7" x2="273.5" y2="300.2" stroke="#111" stroke-width="1"/>
<rect x="271.5" y="265.9" width="4" height="27.5" fill="#fff" stroke="#111" stroke-width="1"/>
<line x1="278.5" y1="215.8" x2="278.5" y2="266.5" stroke="#111" stroke-width="1"/>
<rect x="276.5" y="241.7" width="4" height="20.8" fill="#fff" stroke="#111" stroke-width="1"/>
<line x1="283.5" y1="151.2" x2="283.5" y2="195.1" stroke="#111" stroke-width="1"/>
<rect x="281.5" y="163.0" width="4" height="30.6" fill="#fff" stroke="#111" stroke-width="1"/>
<line x1="288.5" y1="162.2" x2="288.5" y2="185.6" stroke="#d10031" stroke-width="1"/>
<rect x="286" y="174.4" width="5" height="3.2" fill="#d10031"/>
<line x1="293.5" y1="176.5" x2="293.5" y2="241.3" stroke="#d10031" stroke-width="1"/>
<rect x="291" y="181.4" width="5" height="34.7" fill="#d10031"/>
<line x1="298.5" y1="153.3" x2="298.5" y2="207.4" stroke="#111" stroke-width="1"/>
<rect x="296.5" y="174.9" width="4" height="31.4" fill="#fff" stroke="#111" stroke-width="1"/>
<line x1="303.5" y1="170.2" x2="303.5" y2="204.7" stroke="#d10031" stroke-width="1"/>
<rect x="301" y="176.5" width="5" height="20.4" fill="#d10031"/>
<line x1="308.5" y1="202.5" x2="308.5" y2="220.5" stroke="#d10031" stroke-width="1"/>
<rect x="306" y="202.5" width="5" height="6.0" fill="#d10031"/>
<line x1="313.5" y1="191.5" x2="313.5" y2="227.5" stroke="#d10031" stroke-width="1"/>
<rect x="311" y="191.9" width="5" height="33.7" fill="#d10031"/>
<line x1="318.5" y1="213.7" x2="318.5" y2="228.5" stroke="#111" stroke-width="1"/>
<rect x="316" y="219.8" width="5" height="4.0" fill="#111"/>
<line x1="323.5" y1="214.5" x2="323.5" y2="254.2" stroke="#d10031" stroke-width="1"/>
<rect x="321" y="224.0" width="5" height="25.3" fill="#d10031"/>
<line x1="328.5" y1="228.6" x2="328.5" y2="253.5" stroke="#d10031" stroke-width="1"/>
<rect x="326" y="235.0" width="5" height="18.0" fill="#d10031"/>
<line x1="333.5" y1="228.6" x2="333.5" y2="260.4" stroke="#111" stroke-width="1"/>
<rect x="331.5" y="233.9" width="4" height="18.8" fill="#fff" stroke="#111" stroke-width="1"/>
<line x1="338.5" y1="219.8" x2="338.5" y2="240.5" stroke="#d10031" stroke-width="1"/>
<rect x="336" y="227.0" width="5" height="8.6" fill="#d10031"/>
<line x1="343.5" y1="208.7" x2="343.5" y2="234.2" stroke="#111" stroke-width="1"/>
<rect x="341" y="219.1" width="5" height="7.9" fill="#111"/>
<line x1="348.5" y1="216.5" x2="348.5" y2="256.5" stroke="#d10031" stroke-width="1"/>
<rect x="346" y="217.3" width="5" height="39.2" fill="#d10031"/>
<line x1="353.5" y1="213.5" x2="353.5" y2="248.0" stroke="#111" stroke-width="1"/>
<rect x="351.5" y="244.1" width="4" height="3.4" fill="#fff" stroke="#111" stroke-width="1"/>
<line x1="359.5" y1="237.0" x2="359.5" y2="260.7" stroke="#d10031" stroke-width="1"/>
<rect x="357" y="240.0" width="5" height="16.3" fill="#d10031"/>
<line x1="364.5" y1="255.5" x2="364.5" y2="272.6" stroke="#d10031" stroke-width="1"/>
<rect x="362" y="255.8" width="5" height="9.4" fill="#d10031"/>
<line x1="369.5" y1="257.5" x2="369.5" y2="290.5" stroke="#d10031" stroke-width="1"/>
<rect x="367" y="259.6" width="5" height="28.1" fill="#d10031"/>
<line x1="374.5" y1="256.1" x2="374.5" y2="270.2" stroke="#111" stroke-width="1"/>
<rect x="372" y="260.3" width="5" height="4.5" fill="#111"/>
<line x1="379.5" y1="240.7" x2="379.5" y2="269.5" stroke="#111" stroke-width="1"/>
<rect x="377.5" y="248.0" width="4" height="2.4" fill="#fff" stroke="#111" stroke-width="1"/>
<line x1="384.5" y1="223.8" x2="384.5" y2="263.8" stroke="#d10031" stroke-width="1"/>
<rect x="382" y="246.8" width="5" height="8.7" fill="#d10031"/>
<line x1="389.5" y1="231.8" x2="389.5" y2="264.3" stroke="#d10031" stroke-width="1"/>
<rect x="387" y="245.3" width="5" height="16.2" fill="#d10031"/>
<line x1="394.5" y1="256.0" x2="394.5" y2="296.1" stroke="#d10031" stroke-width="1"/>
<rect x="392" y="256.1" width="5" height="38.6" fill="#d10031"/>
<line x1="399.5" y1="267.8" x2="399.5" y2="291.9" stroke="#111" stroke-width="1"/>
<rect x="397.5" y="278.4" width="4" height="5.2" fill="#fff" stroke="#111" stroke-width="1"/>
<line x1="404.5" y1="275.0" x2="404.5" y2="294.5" stroke="#d10031" stroke-width="1"/>
<rect x="402" y="280.0" width="5" height="9.6" fill="#d10031"/>
<line x1="409.5" y1="286.1" x2="409.5" y2="307.8" stroke="#d10031" stroke-width="1"/>
<rect x="407" y="294.5" width="5" height="4.9" fill="#d10031"/>
<line x1="414.5" y1="287.2" x2="414.5" y2="315.6" stroke="#d10031" stroke-width="1"/>
<rect x="412" y="297.0" width="5" height="15.5" fill="#d10031"/>
<line x1="419.5" y1="299.4" x2="419.5" y2="325.4" stroke="#d10031" stroke-width="1"/>
<rect x="417" y="310.0" width="5" height="3.5" fill="#d10031"/>
<line x1="424.5" y1="288.2" x2="424.5" y2="311.3" stroke="#111" stroke-width="1"/>
<rect x="422" y="292.8" width="5" height="15.7" fill="#111"/>
<line x1="429.5" y1="276.9" x2="429.5" y2="300.8" stroke="#111" stroke-width="1"/>
<rect x="427.5" y="287.3" width="4" height="10.6" fill="#fff" stroke="#111" stroke-width="1"/>
<line x1="434.5" y1="291.0" x2="434.5" y2="313.5" stroke="#d10031" stroke-width="1"/>
<rect x="432" y="293.1" width="5" height="17.5" fill="#d10031"/>
<line x1="439.5" y1="305.7" x2="439.5" y2="328.2" stroke="#d10031" stroke-width="1"/>
<rect x="437" y="308.5" width="5" height="17.5" fill="#d10031"/>
<line x1="444.5" y1="328.4" x2="444.5" y2="346.3" stroke="#d10031" stroke-width="1"/>
<rect x="442" y="329.5" width="5" height="15.4" fill="#d10031"/>
<line x1="449.5" y1="309.0" x2="449.5" y2="326.6" stroke="#111" stroke-width="1"/>
<rect x="447.5" y="317.3" width="4" height="7.0" fill="#fff" stroke="#111" stroke-width="1"/>
<line x1="454.5" y1="286.2" x2="454.5" y2="320.3" stroke="#111" stroke-width="1"/>
<rect x="452" y="295.5" width="5" height="3.5" fill="#111"/>
<line x1="459.5" y1="299.0" x2="459.5" y2="337.1" stroke="#d10031" stroke-width="1"/>
<rect x="457" y="299.9" width="5" height="33.0" fill="#d10031"/>
<line x1="464.5" y1="319.6" x2="464.5" y2="342.0" stroke="#d10031" stroke-width="1"/>
<rect x="462" y="330.8" width="5" height="11.2" fill="#d10031"/>
<line x1="469.5" y1="321.4" x2="469.5" y2="353.8" stroke="#d10031" stroke-width="1"/>
<rect x="467" y="341.2" width="5" height="5.6" fill="#d10031"/>
<line x1="474.5" y1="331.9" x2="474.5" y2="353.1" stroke="#111" stroke-width="1"/>
<rect x="472" y="336.3" width="5" height="7.4" fill="#111"/>
<line x1="479.5" y1="327.7" x2="479.5" y2="342.0" stroke="#111" stroke-width="1"/>
<rect x="477.5" y="336.8" width="4" height="4.6" fill="#fff" stroke="#111" stroke-width="1"/>
<line x1="485.5" y1="325.6" x2="485.5" y2="377.6" stroke="#d10031" stroke-width="1"/>
<rect x="483" y="326.6" width="5" height="46.8" fill="#d10031"/>
<line x1="490.5" y1="352.0" x2="490.5" y2="374.1" stroke="#111" stroke-width="1"/>
<rect x="488.5" y="365.4" width="4" height="6.3" fill="#fff" stroke="#111" stroke-width="1"/>
<line x1="495.5" y1="361.0" x2="495.5" y2="386.0" stroke="#d10031" stroke-width="1"/>
<rect x="493" y="361.9" width="5" height="16.0" fill="#d10031"/>
<line x1="500.5" y1="346.4" x2="500.5" y2="372.0" stroke="#111" stroke-width="1"/>
<rect x="498" y="353.7" width="5" height="15.5" fill="#111"/>
<line x1="505.5" y1="361.0" x2="505.5" y2="378.3" stroke="#d10031" stroke-width="1"/>
<rect x="503" y="363.8" width="5" height="10.7" fill="#d10031"/>
<line x1="510.5" y1="356.8" x2="510.5" y2="380.4" stroke="#111" stroke-width="1"/>
<rect x="508.5" y="370.7" width="4" height="2.4" fill="#fff" stroke="#111" stroke-width="1"/>
<line x1="515.5" y1="356.2" x2="515.5" y2="377.6" stroke="#d10031" stroke-width="1"/>
<rect x="513" y="359.0" width="5" height="18.6" fill="#d10031"/>
<line x1="520.5" y1="344.6" x2="520.5" y2="367.1" stroke="#111" stroke-width="1"/>
<rect x="518.5" y="357.4" width="4" height="7.4" fill="#fff" stroke="#111" stroke-width="1"/>
<line x1="525.5" y1="287.0" x2="525.5" y2="325.3" stroke="#111" stroke-width="1"/>
<rect x="523.5" y="302.0" width="4" height="22.7" fill="#fff" stroke="#111" stroke-width="1"/>
<line x1="530.5" y1="294.0" x2="530.5" y2="313.7" stroke="#111" stroke-width="1"/>
<line x1="528" y1="295.7" x2="533" y2="295.7" stroke="#111" stroke-width="1.4"/>
<line x1="535.5" y1="284.2" x2="535.5" y2="318.0" stroke="#d10031" stroke-width="1"/>
<rect x="533" y="291.2" width="5" height="26.8" fill="#d10031"/>
<line x1="540.5" y1="312.4" x2="540.5" y2="336.0" stroke="#d10031" stroke-width="1"/>
<rect x="538" y="324.6" width="5" height="11.4" fill="#d10031"/>
<line x1="545.5" y1="268.0" x2="545.5" y2="337.9" stroke="#111" stroke-width="1"/>
<rect x="543.5" y="273.7" width="4" height="56.2" fill="#fff" stroke="#111" stroke-width="1"/>
<line x1="550.5" y1="242.7" x2="550.5" y2="274.3" stroke="#111" stroke-width="1"/>
<rect x="548" y="254.4" width="5" height="8.7" fill="#111"/>
<line x1="555.5" y1="241.7" x2="555.5" y2="280.6" stroke="#111" stroke-width="1"/>
<rect x="553.5" y="264.0" width="4" height="5.6" fill="#fff" stroke="#111" stroke-width="1"/>
<line x1="560.5" y1="256.8" x2="560.5" y2="277.1" stroke="#d10031" stroke-width="1"/>
<line x1="558" y1="268.7" x2="563" y2="268.7" stroke="#d10031" stroke-width="1.4"/>
<line x1="565.5" y1="245.5" x2="565.5" y2="278.5" stroke="#d10031" stroke-width="1"/>
<rect x="563" y="254.0" width="5" height="19.6" fill="#d10031"/>
<line x1="570.5" y1="262.0" x2="570.5" y2="312.1" stroke="#d10031" stroke-width="1"/>
<line x1="568" y1="274.3" x2="573" y2="274.3" stroke="#d10031" stroke-width="1.4"/>
<line x1="575.5" y1="240.9" x2="575.5" y2="277.1" stroke="#111" stroke-width="1"/>
<rect x="573.5" y="253.5" width="4" height="21.7" fill="#fff" stroke="#111" stroke-width="1"/>
<line x1="580.5" y1="249.7" x2="580.5" y2="289.8" stroke="#d10031" stroke-width="1"/>
<rect x="578" y="252.6" width="5" height="35.5" fill="#d10031"/>
<line x1="585.5" y1="268.0" x2="585.5" y2="305.0" stroke="#d10031" stroke-width="1"/>
<rect x="583" y="286.3" width="5" height="18.2" fill="#d10031"/>
<line x1="590.5" y1="303.8" x2="590.5" y2="321.3" stroke="#d10031" stroke-width="1"/>
<rect x="588" y="306.4" width="5" height="12.1" fill="#d10031"/>
<line x1="595.5" y1="294.3" x2="595.5" y2="312.1" stroke="#111" stroke-width="1"/>
<rect x="593.5" y="299.9" width="4" height="3.4" fill="#fff" stroke="#111" stroke-width="1"/>
<line x1="600.5" y1="235.8" x2="600.5" y2="304.4" stroke="#111" stroke-width="1"/>
<rect x="598.5" y="249.0" width="4" height="54.9" fill="#fff" stroke="#111" stroke-width="1"/>
<line x1="605.5" y1="244.2" x2="605.5" y2="271.5" stroke="#d10031" stroke-width="1"/>
<rect x="603" y="256.2" width="5" height="8.4" fill="#d10031"/>
<line x1="611.5" y1="253.1" x2="611.5" y2="275.6" stroke="#111" stroke-width="1"/>
<rect x="609.5" y="263.1" width="4" height="2.4" fill="#fff" stroke="#111" stroke-width="1"/>
<line x1="616.5" y1="232.0" x2="616.5" y2="263.9" stroke="#111" stroke-width="1"/>
<rect x="614" y="244.9" width="5" height="16.9" fill="#111"/>
<line x1="621.5" y1="238.6" x2="621.5" y2="273.7" stroke="#d10031" stroke-width="1"/>
<rect x="619" y="241.4" width="5" height="28.8" fill="#d10031"/>
<line x1="626.5" y1="240.7" x2="626.5" y2="272.3" stroke="#111" stroke-width="1"/>
<rect x="624.5" y="250.4" width="4" height="21.4" fill="#fff" stroke="#111" stroke-width="1"/>
<line x1="631.5" y1="208.4" x2="631.5" y2="273.0" stroke="#111" stroke-width="1"/>
<line x1="629" y1="237.9" x2="634" y2="237.9" stroke="#111" stroke-width="1.4"/>
<line x1="636.5" y1="232.6" x2="636.5" y2="256.2" stroke="#d10031" stroke-width="1"/>
<rect x="634" y="235.8" width="5" height="11.2" fill="#d10031"/>
<line x1="641.5" y1="182.1" x2="641.5" y2="244.9" stroke="#111" stroke-width="1"/>
<rect x="639.5" y="212.3" width="4" height="29.3" fill="#fff" stroke="#111" stroke-width="1"/>
<line x1="646.5" y1="175.1" x2="646.5" y2="213.0" stroke="#111" stroke-width="1"/>
<rect x="644.5" y="182.6" width="4" height="6.8" fill="#fff" stroke="#111" stroke-width="1"/>
<line x1="651.5" y1="161.1" x2="651.5" y2="208.1" stroke="#111" stroke-width="1"/>
<rect x="649.5" y="178.4" width="4" height="17.3" fill="#fff" stroke="#111" stroke-width="1"/>
<line x1="656.5" y1="152.4" x2="656.5" y2="210.9" stroke="#d10031" stroke-width="1"/>
<rect x="654" y="156.9" width="5" height="52.2" fill="#d10031"/>
<line x1="661.5" y1="168.1" x2="661.5" y2="196.9" stroke="#111" stroke-width="1"/>
<rect x="659.5" y="188.5" width="4" height="2.4" fill="#fff" stroke="#111" stroke-width="1"/>
<line x1="666.5" y1="171.6" x2="666.5" y2="219.4" stroke="#d10031" stroke-width="1"/>
<line x1="664" y1="190.6" x2="669" y2="190.6" stroke="#d10031" stroke-width="1.4"/>
</g>
<polyline points="16.5,356.1 31.7,355.3 47.5,353.5 63.2,351.9 79.0,350.8 94.7,349.3 110.4,346.1 126.2,343.0 141.9,339.6 157.6,335.6 170.0,333.2 185.7,329.2 201.5,325.3 217.2,322.7 233.0,320.0 248.7,318.2 264.4,316.1 280.2,313.5 295.9,309.6 311.6,306.1 327.0,304.0 340.7,301.7 356.5,299.8 372.2,299.3 388.0,297.7 403.7,297.2 419.4,296.4 435.2,295.6 450.9,294.6 466.6,293.0 480.0,292.0 496.6,290.6 513.2,288.7 529.8,287.8 546.4,286.5 563.0,284.2 579.6,282.3 596.2,280.9 612.8,280.9 629.4,280.9 646.0,279.0 665.9,275.4" fill="none" stroke="#d62c5c" stroke-width="1.25" stroke-linejoin="round" stroke-linecap="round" clip-path="url(#cp)"/>
<polyline points="16.5,253.1 26.5,254.9 37.0,258.9 47.5,264.1 58.0,269.3 65.8,272.0 76.3,272.0 86.8,272.5 97.3,274.1 107.8,271.4 118.3,268.0 128.8,265.4 139.3,262.3 149.8,262.3 160.3,261.5 168.1,259.4 177.9,259.8 191.0,263.5 204.1,266.9 217.2,268.7 230.3,268.7 243.4,267.7 253.9,266.1 264.4,264.3 274.9,260.3 285.4,253.8 295.9,246.7 306.4,240.7 316.9,236.2 327.0,233.8 335.5,231.5 346.0,227.5 355.2,224.9 364.3,226.2 374.8,230.2 385.3,232.8 395.8,234.6 403.7,236.7 414.2,242.0 424.7,248.5 435.2,251.9 445.7,255.1 456.1,259.0 466.6,264.3 480.0,267.8 491.1,272.5 502.1,276.9 513.2,280.2 524.3,281.6 532.6,284.4 540.9,289.9 551.9,294.1 563.0,296.8 574.1,299.0 585.1,301.0 596.2,303.7 607.2,304.6 618.3,304.6 629.4,303.7 640.4,302.3 648.7,298.2 658.4,294.1 665.9,289.9" fill="none" stroke="#2b2ba6" stroke-width="1.4" stroke-linejoin="round" stroke-linecap="round" clip-path="url(#cp)"/>
<rect x="0" y="126" width="16" height="280" fill="#fff"/>
<rect x="17" y="127" width="119" height="12" fill="#fff"/>
<rect x="17" y="139" width="74" height="11" fill="#fff"/>
<rect x="17" y="150" width="79" height="11" fill="#fff"/>
<rect x="17" y="161" width="77" height="11" fill="#fff"/>
<g stroke="#111" stroke-width="1.1" fill="none"><line x1="20.5" y1="129" x2="20.5" y2="136"/><rect x="19.6" y="130.6" width="1.9" height="4.4" fill="#fff"/><line x1="23.7" y1="131" x2="23.7" y2="137"/><rect x="22.2" y="132.2" width="3.2" height="3.6" fill="#111"/><line x1="27" y1="129" x2="27" y2="137"/><rect x="26.1" y="130.6" width="1.9" height="5.4" fill="#fff"/></g>
<text x="31.6" y="136.8" font-size="9.8" fill="#333" font-family="'DejaVu Sans Mono', 'Liberation Mono', monospace" textLength="103" lengthAdjust="spacingAndGlyphs" stroke="#333" stroke-width="0.2">$VIX (Daily) 31.62</text>
<line x1="19" y1="143.8" x2="28" y2="143.8" stroke="#2b2ba6" stroke-width="2"/>
<text x="30" y="148.3" font-size="9.6" fill="#26269c" font-family="'DejaVu Sans', Verdana, sans-serif" textLength="59" lengthAdjust="spacingAndGlyphs" stroke="#26269c" stroke-width="0.2">MA(50) 24.47</text>
<line x1="19" y1="154.8" x2="28" y2="154.8" stroke="#d8234c" stroke-width="2"/>
<text x="30" y="159.1" font-size="9.6" fill="#d01840" font-family="'DejaVu Sans', Verdana, sans-serif" textLength="64" lengthAdjust="spacingAndGlyphs" stroke="#d01840" stroke-width="0.2">MA(200) 25.40</text>
<g fill="#8a8a8a" stroke="#555" stroke-width="1"><rect x="19.5" y="164.3" width="2.6" height="4.7"/><rect x="22.5" y="161.6" width="2.4" height="7.4"/><rect x="25.4" y="163.5" width="2.3" height="5.5"/></g>
<text x="30" y="169.3" font-size="9.6" fill="#4a4a4a" font-family="'DejaVu Sans', Verdana, sans-serif" textLength="62" lengthAdjust="spacingAndGlyphs" stroke="#4a4a4a" stroke-width="0.2">Volume undef</text>
<line x1="16" y1="431.5" x2="673" y2="431.5" stroke="#e4e4e4" stroke-width="1"/>
<line x1="16" y1="449.5" x2="673" y2="449.5" stroke="#e4e4e4" stroke-width="1"/>
<line x1="16" y1="467.5" x2="673" y2="467.5" stroke="#e4e4e4" stroke-width="1"/>
<line x1="16" y1="485.5" x2="673" y2="485.5" stroke="#e4e4e4" stroke-width="1"/>
<line x1="16" y1="503.5" x2="673" y2="503.5" stroke="#e4e4e4" stroke-width="1"/>
<line x1="41.5" y1="420" x2="41.5" y2="518" stroke="#e4e4e4" stroke-width="1"/>
<line x1="66.5" y1="420" x2="66.5" y2="518" stroke="#e4e4e4" stroke-width="1"/>
<line x1="86.5" y1="420" x2="86.5" y2="518" stroke="#e4e4e4" stroke-width="1"/>
<line x1="112.5" y1="420" x2="112.5" y2="518" stroke="#e4e4e4" stroke-width="1"/>
<line x1="162.5" y1="420" x2="162.5" y2="518" stroke="#e4e4e4" stroke-width="1"/>
<line x1="187.5" y1="420" x2="187.5" y2="518" stroke="#e4e4e4" stroke-width="1"/>
<line x1="212.5" y1="420" x2="212.5" y2="518" stroke="#e4e4e4" stroke-width="1"/>
<line x1="238.5" y1="420" x2="238.5" y2="518" stroke="#e4e4e4" stroke-width="1"/>
<line x1="258.5" y1="420" x2="258.5" y2="518" stroke="#e4e4e4" stroke-width="1"/>
<line x1="283.5" y1="420" x2="283.5" y2="518" stroke="#e4e4e4" stroke-width="1"/>
<line x1="308.5" y1="420" x2="308.5" y2="518" stroke="#e4e4e4" stroke-width="1"/>
<line x1="328.5" y1="420" x2="328.5" y2="518" stroke="#e4e4e4" stroke-width="1"/>
<line x1="353.5" y1="420" x2="353.5" y2="518" stroke="#e4e4e4" stroke-width="1"/>
<line x1="374.5" y1="420" x2="374.5" y2="518" stroke="#e4e4e4" stroke-width="1"/>
<line x1="399.5" y1="420" x2="399.5" y2="518" stroke="#e4e4e4" stroke-width="1"/>
<line x1="424.5" y1="420" x2="424.5" y2="518" stroke="#e4e4e4" stroke-width="1"/>
<line x1="474.5" y1="420" x2="474.5" y2="518" stroke="#e4e4e4" stroke-width="1"/>
<line x1="500.5" y1="420" x2="500.5" y2="518" stroke="#e4e4e4" stroke-width="1"/>
<line x1="525.5" y1="420" x2="525.5" y2="518" stroke="#e4e4e4" stroke-width="1"/>
<line x1="550.5" y1="420" x2="550.5" y2="518" stroke="#e4e4e4" stroke-width="1"/>
<line x1="575.5" y1="420" x2="575.5" y2="518" stroke="#e4e4e4" stroke-width="1"/>
<line x1="595.5" y1="420" x2="595.5" y2="518" stroke="#e4e4e4" stroke-width="1"/>
<line x1="621.5" y1="420" x2="621.5" y2="518" stroke="#e4e4e4" stroke-width="1"/>
<line x1="646.5" y1="420" x2="646.5" y2="518" stroke="#e4e4e4" stroke-width="1"/>
<line x1="36.5" y1="420" x2="36.5" y2="518" stroke="#c4c4c4" stroke-width="1"/>
<line x1="137.5" y1="420" x2="137.5" y2="518" stroke="#c4c4c4" stroke-width="1"/>
<line x1="243.5" y1="420" x2="243.5" y2="518" stroke="#c4c4c4" stroke-width="1"/>
<line x1="348.5" y1="420" x2="348.5" y2="518" stroke="#c4c4c4" stroke-width="1"/>
<line x1="449.5" y1="420" x2="449.5" y2="518" stroke="#c4c4c4" stroke-width="1"/>
<line x1="565.5" y1="420" x2="565.5" y2="518" stroke="#c4c4c4" stroke-width="1"/>
<g fill="#5aaad6" stroke="#2f7fae" stroke-width="0.9" clip-path="url(#cm)">
<rect x="14.25" y="467.4" width="4.1" height="22.5"/>
<rect x="19.29" y="467.4" width="4.1" height="22.5"/>
<rect x="24.33" y="467.4" width="4.1" height="20.3"/>
<rect x="29.37" y="467.4" width="4.1" height="17.3"/>
<rect x="34.41" y="467.4" width="4.1" height="15.0"/>
<rect x="39.45" y="467.4" width="4.1" height="13.5"/>
<rect x="44.49" y="467.4" width="4.1" height="8.7"/>
<rect x="49.53" y="467.4" width="4.1" height="3.8"/>
<rect x="54.57" y="467.4" width="4.1" height="1.2"/>
<rect x="59.61" y="465.9" width="4.1" height="1.5"/>
<rect x="64.65" y="461.4" width="4.1" height="6.0"/>
<rect x="69.69" y="458.5" width="4.1" height="8.9"/>
<rect x="74.73" y="460.0" width="4.1" height="7.4"/>
<rect x="79.77" y="460.0" width="4.1" height="7.4"/>
<rect x="84.81" y="460.7" width="4.1" height="6.7"/>
<rect x="89.85" y="461.7" width="4.1" height="5.7"/>
<rect x="94.89" y="464.1" width="4.1" height="3.3"/>
<rect x="99.93" y="462.9" width="4.1" height="4.5"/>
<rect x="104.97" y="455.6" width="4.1" height="11.8"/>
<rect x="110.01" y="453.7" width="4.1" height="13.7"/>
<rect x="115.05" y="444.7" width="4.1" height="22.7"/>
<rect x="120.09" y="442.5" width="4.1" height="24.9"/>
<rect x="125.13" y="444.0" width="4.1" height="23.4"/>
<rect x="130.17" y="443.2" width="4.1" height="24.2"/>
<rect x="135.21" y="445.5" width="4.1" height="21.9"/>
<rect x="140.25" y="450.7" width="4.1" height="16.7"/>
<rect x="145.29" y="459.7" width="4.1" height="7.7"/>
<rect x="150.33" y="459.7" width="4.1" height="7.7"/>
<rect x="155.37" y="461.9" width="4.1" height="5.5"/>
<rect x="160.41" y="457.4" width="4.1" height="10.0"/>
<rect x="165.45" y="458.6" width="4.1" height="8.8"/>
<rect x="170.49" y="459.7" width="4.1" height="7.7"/>
<rect x="175.53" y="463.1" width="4.1" height="4.3"/>
<rect x="180.57" y="467.4" width="4.1" height="0.6"/>
<rect x="185.61" y="467.4" width="4.1" height="6.8"/>
<rect x="190.65" y="467.4" width="4.1" height="10.8"/>
<rect x="195.69" y="467.4" width="4.1" height="9.3"/>
<rect x="200.73" y="467.4" width="4.1" height="9.3"/>
<rect x="205.77" y="467.4" width="4.1" height="7.8"/>
<rect x="210.81" y="467.4" width="4.1" height="8.5"/>
<rect x="215.85" y="467.4" width="4.1" height="7.8"/>
<rect x="220.89" y="467.4" width="4.1" height="8.5"/>
<rect x="225.93" y="467.4" width="4.1" height="9.3"/>
<rect x="230.97" y="467.4" width="4.1" height="11.2"/>
<rect x="236.01" y="467.4" width="4.1" height="11.5"/>
<rect x="241.05" y="467.4" width="4.1" height="12.7"/>
<rect x="246.09" y="467.4" width="4.1" height="13.3"/>
<rect x="251.13" y="467.4" width="4.1" height="11.8"/>
<rect x="256.17" y="467.4" width="4.1" height="10.8"/>
<rect x="261.21" y="467.4" width="4.1" height="10.0"/>
<rect x="266.25" y="467.4" width="4.1" height="9.3"/>
<rect x="271.29" y="467.4" width="4.1" height="7.0"/>
<rect x="276.33" y="467.4" width="4.1" height="3.3"/>
<rect x="281.37" y="460.6" width="4.1" height="6.8"/>
<rect x="286.41" y="455.7" width="4.1" height="11.7"/>
<rect x="291.45" y="456.7" width="4.1" height="10.7"/>
<rect x="296.49" y="454.2" width="4.1" height="13.2"/>
<rect x="301.53" y="455.7" width="4.1" height="11.7"/>
<rect x="306.57" y="458.7" width="4.1" height="8.7"/>
<rect x="311.61" y="461.7" width="4.1" height="5.7"/>
<rect x="316.65" y="464.2" width="4.1" height="3.2"/>
<rect x="321.69" y="467.3" width="4.1" height="0.6"/>
<rect x="326.73" y="467.4" width="4.1" height="3.3"/>
<rect x="331.77" y="467.4" width="4.1" height="3.3"/>
<rect x="336.81" y="467.4" width="4.1" height="3.3"/>
<rect x="341.85" y="467.4" width="4.1" height="3.3"/>
<rect x="346.89" y="467.4" width="4.1" height="4.3"/>
<rect x="351.93" y="467.4" width="4.1" height="4.3"/>
<rect x="356.97" y="467.4" width="4.1" height="5.2"/>
<rect x="362.01" y="467.4" width="4.1" height="6.3"/>
<rect x="367.05" y="467.4" width="4.1" height="7.0"/>
<rect x="372.09" y="467.4" width="4.1" height="6.7"/>
<rect x="377.13" y="467.4" width="4.1" height="4.8"/>
<rect x="382.17" y="467.4" width="4.1" height="4.0"/>
<rect x="387.21" y="467.4" width="4.1" height="2.6"/>
<rect x="392.25" y="467.4" width="4.1" height="5.2"/>
<rect x="397.29" y="467.4" width="4.1" height="5.2"/>
<rect x="402.33" y="467.4" width="4.1" height="4.8"/>
<rect x="407.37" y="467.4" width="4.1" height="6.7"/>
<rect x="412.41" y="467.4" width="4.1" height="6.7"/>
<rect x="417.45" y="467.4" width="4.1" height="7.3"/>
<rect x="422.49" y="467.4" width="4.1" height="6.3"/>
<rect x="427.53" y="467.4" width="4.1" height="3.3"/>
<rect x="432.57" y="467.4" width="4.1" height="3.3"/>
<rect x="437.61" y="467.4" width="4.1" height="4.1"/>
<rect x="442.65" y="467.4" width="4.1" height="5.4"/>
<rect x="447.69" y="467.4" width="4.1" height="3.3"/>
<rect x="452.73" y="467.4" width="4.1" height="0.8"/>
<rect x="457.77" y="467.4" width="4.1" height="0.8"/>
<rect x="462.81" y="467.4" width="4.1" height="2.6"/>
<rect x="467.85" y="467.4" width="4.1" height="2.6"/>
<rect x="472.89" y="467.4" width="4.1" height="2.2"/>
<rect x="477.93" y="467.4" width="4.1" height="1.1"/>
<rect x="482.97" y="467.4" width="4.1" height="2.6"/>
<rect x="488.01" y="467.4" width="4.1" height="2.6"/>
<rect x="493.05" y="467.4" width="4.1" height="3.7"/>
<rect x="498.09" y="467.4" width="4.1" height="2.6"/>
<rect x="503.13" y="467.4" width="4.1" height="2.6"/>
<rect x="508.17" y="467.4" width="4.1" height="1.4"/>
<rect x="513.21" y="467.4" width="4.1" height="1.4"/>
<rect x="518.25" y="466.7" width="4.1" height="0.7"/>
<rect x="523.29" y="462.0" width="4.1" height="5.4"/>
<rect x="528.33" y="458.7" width="4.1" height="8.7"/>
<rect x="533.37" y="457.6" width="4.1" height="9.8"/>
<rect x="538.41" y="460.2" width="4.1" height="7.2"/>
<rect x="543.45" y="456.4" width="4.1" height="11.0"/>
<rect x="548.49" y="453.5" width="4.1" height="13.9"/>
<rect x="553.53" y="452.4" width="4.1" height="15.0"/>
<rect x="558.57" y="453.5" width="4.1" height="13.9"/>
<rect x="563.61" y="454.6" width="4.1" height="12.8"/>
<rect x="568.65" y="456.1" width="4.1" height="11.3"/>
<rect x="573.69" y="456.7" width="4.1" height="10.7"/>
<rect x="578.73" y="459.7" width="4.1" height="7.7"/>
<rect x="583.77" y="463.6" width="4.1" height="3.8"/>
<rect x="588.81" y="467.4" width="4.1" height="0.6"/>
<rect x="593.85" y="467.4" width="4.1" height="1.0"/>
<rect x="598.89" y="465.0" width="4.1" height="2.4"/>
<rect x="603.93" y="465.0" width="4.1" height="2.4"/>
<rect x="608.97" y="465.0" width="4.1" height="2.4"/>
<rect x="614.01" y="465.0" width="4.1" height="2.4"/>
<rect x="619.05" y="466.0" width="4.1" height="1.4"/>
<rect x="624.09" y="465.0" width="4.1" height="2.4"/>
<rect x="629.13" y="463.6" width="4.1" height="3.8"/>
<rect x="634.17" y="463.6" width="4.1" height="3.8"/>
<rect x="639.21" y="461.6" width="4.1" height="5.8"/>
<rect x="644.25" y="458.0" width="4.1" height="9.4"/>
<rect x="649.29" y="456.0" width="4.1" height="11.4"/>
<rect x="654.33" y="457.8" width="4.1" height="9.6"/>
<rect x="659.37" y="458.7" width="4.1" height="8.7"/>
<rect x="664.41" y="459.9" width="4.1" height="7.5"/>
</g>
<polyline points="17.2,478.7 22.0,483.9 27.2,489.1 32.5,492.9 38.5,496.6 44.5,499.6 50.4,501.6 56.4,502.3 60.9,502.2 66.2,500.1 71.4,497.4 77.4,494.7 83.4,492.1 89.4,489.9 95.4,488.7 101.4,487.2 106.0,485.9 112.0,480.6 118.0,473.9 124.0,466.4 130.0,459.7 135.9,453.7 141.9,447.7 147.9,445.8 153.9,443.2 159.9,441.0 165.9,438.0 171.9,435.3 177.9,434.2 181.6,434.2 186.1,436.5 194.0,439.2 203.0,443.7 212.0,447.2 221.0,449.7 229.9,454.2 237.4,457.9 244.9,462.7 252.4,467.7 259.9,472.2 267.4,475.9 275.0,477.4 280.5,478.2 286.5,474.4 292.5,470.7 298.5,466.9 304.4,463.2 310.4,460.9 316.4,459.1 322.4,458.2 329.9,459.4 337.4,460.9 344.9,462.4 352.4,464.2 361.0,467.0 367.0,469.6 373.0,471.4 379.0,472.6 385.0,473.2 390.9,474.4 396.9,476.2 402.9,477.7 408.9,479.2 414.9,481.2 420.9,483.1 426.9,484.6 432.9,484.9 438.9,486.1 446.0,487.9 452.0,488.2 458.0,489.1 464.0,489.7 470.0,490.6 475.9,491.2 481.9,491.7 487.9,492.1 493.9,492.7 499.9,493.2 505.9,493.9 511.9,494.2 517.9,494.2 523.9,492.7 531.0,489.4 537.0,487.1 543.0,484.1 549.0,479.7 555.0,475.2 560.9,470.7 566.9,466.9 572.9,464.2 578.9,462.1 584.9,460.6 590.9,460.6 596.9,460.2 602.9,459.4 608.9,458.2 615.8,456.3 621.3,456.3 626.2,455.3 631.0,454.1 635.9,453.1 640.8,451.9 645.7,449.2 651.1,446.2 656.0,444.1 660.9,441.7 665.7,439.5" fill="none" stroke="#f23a3a" stroke-width="1.4" stroke-linejoin="round" stroke-linecap="round"/>
<polyline points="17.2,501.1 22.0,506.4 27.2,508.6 32.5,509.2 37.0,510.5 42.2,510.8 47.4,508.8 52.7,503.4 57.9,501.1 62.4,498.9 67.7,492.9 72.2,489.1 77.4,487.7 82.6,485.7 87.9,483.6 93.1,483.9 97.6,485.7 102.1,482.4 106.7,471.7 110.5,467.9 114.2,460.4 118.0,451.4 122.5,445.5 127.0,441.7 131.4,435.7 133.7,433.2 137.0,428.0 141.0,428.0 144.2,433.5 147.9,438.7 151.7,438.0 156.9,437.2 160.6,433.8 165.0,428.0 178.0,428.0 181.6,433.8 186.1,439.5 192.5,448.2 198.5,448.7 204.5,450.5 213.5,454.6 218.0,455.7 223.9,458.7 229.9,463.2 235.9,468.4 243.4,472.9 250.9,478.9 258.4,481.6 263.6,484.6 268.1,486.1 274.5,483.4 279.0,480.4 283.5,468.4 288.0,460.9 293.2,459.7 297.0,455.0 301.4,452.3 306.7,451.7 311.9,453.5 317.9,455.7 322.4,458.7 327.7,462.4 332.9,463.9 338.1,464.7 343.4,465.4 347.1,467.7 352.4,468.7 356.1,469.9 360.2,471.4 364.7,474.1 369.2,477.7 374.5,477.7 379.7,476.7 385.0,476.7 389.4,477.1 394.7,480.1 399.2,481.2 404.4,483.4 409.7,485.7 414.9,487.6 419.4,489.4 424.6,490.2 429.1,487.9 434.4,488.7 439.6,490.2 445.2,492.4 449.7,492.1 455.0,489.7 459.5,489.4 464.7,490.6 470.0,491.7 475.2,492.7 479.7,491.7 484.9,494.2 490.2,495.4 495.4,496.5 500.6,496.5 505.1,496.2 510.4,495.1 515.6,494.7 519.4,493.2 524.6,485.7 530.2,481.2 535.5,477.7 540.7,476.7 546.0,470.7 551.2,465.1 556.4,460.6 560.9,457.9 566.2,456.7 570.7,455.2 575.9,452.7 581.2,453.8 586.4,457.2 590.9,459.7 596.1,460.6 601.4,456.4 606.6,454.9 610.3,454.3 615.8,453.1 620.7,454.7 626.2,452.6 631.7,450.2 635.9,449.2 640.8,445.8 645.7,440.1 651.1,434.6 656.0,434.9 660.9,432.8 665.7,431.6" fill="none" stroke="#1c1c1c" stroke-width="2.0" stroke-linejoin="round" stroke-linecap="round"/>
<line x1="673" y1="503.5" x2="676" y2="503.5" stroke="#bbb" stroke-width="1"/>
<line x1="673" y1="485.5" x2="676" y2="485.5" stroke="#bbb" stroke-width="1"/>
<line x1="673" y1="467.5" x2="676" y2="467.5" stroke="#bbb" stroke-width="1"/>
<line x1="673" y1="449.5" x2="676" y2="449.5" stroke="#bbb" stroke-width="1"/>
<line x1="673" y1="431.5" x2="676" y2="431.5" stroke="#bbb" stroke-width="1"/>
<line x1="673" y1="512.5" x2="675" y2="512.5" stroke="#c8c8c8" stroke-width="1"/>
<line x1="673" y1="503.5" x2="675" y2="503.5" stroke="#c8c8c8" stroke-width="1"/>
<line x1="673" y1="494.5" x2="675" y2="494.5" stroke="#c8c8c8" stroke-width="1"/>
<line x1="673" y1="485.5" x2="675" y2="485.5" stroke="#c8c8c8" stroke-width="1"/>
<line x1="673" y1="476.5" x2="675" y2="476.5" stroke="#c8c8c8" stroke-width="1"/>
<line x1="673" y1="467.5" x2="675" y2="467.5" stroke="#c8c8c8" stroke-width="1"/>
<line x1="673" y1="458.5" x2="675" y2="458.5" stroke="#c8c8c8" stroke-width="1"/>
<line x1="673" y1="449.5" x2="675" y2="449.5" stroke="#c8c8c8" stroke-width="1"/>
<line x1="673" y1="440.5" x2="675" y2="440.5" stroke="#c8c8c8" stroke-width="1"/>
<line x1="673" y1="431.5" x2="675" y2="431.5" stroke="#c8c8c8" stroke-width="1"/>
<line x1="673" y1="422.5" x2="675" y2="422.5" stroke="#c8c8c8" stroke-width="1"/>
<text x="685.8" y="453.34999999999997" font-size="10.5" fill="#222" font-family="'Liberation Sans', Arial, sans-serif" text-anchor="end" stroke="#222" stroke-width="0.3">1</text>
<text x="685.8" y="471.2" font-size="10.5" fill="#222" font-family="'Liberation Sans', Arial, sans-serif" text-anchor="end" stroke="#222" stroke-width="0.3">0</text>
<text x="685.8" y="489.05" font-size="10.5" fill="#222" font-family="'Liberation Sans', Arial, sans-serif" text-anchor="end" stroke="#222" stroke-width="0.3">-1</text>
<text x="685.8" y="506.9" font-size="10.5" fill="#222" font-family="'Liberation Sans', Arial, sans-serif" text-anchor="end" stroke="#222" stroke-width="0.3">-2</text>
<text x="685.8" y="435.5" font-size="10.5" fill="#222" font-family="'Liberation Sans', Arial, sans-serif" text-anchor="end" stroke="#222" stroke-width="0.3">2</text>
<rect x="17" y="421" width="218" height="12" fill="#fff"/>
<line x1="19.5" y1="427" x2="27.7" y2="427" stroke="#111" stroke-width="2.2"/>
<text x="31.8" y="431.3" font-size="10.3" fill="#222" font-family="'DejaVu Sans', Verdana, sans-serif" textLength="121" lengthAdjust="spacingAndGlyphs" stroke="#222" stroke-width="0.2">MACD(12,26,9) 2.029</text>
<text x="153.2" y="431.3" font-size="10.3" fill="#f23a3a" font-family="'DejaVu Sans', Verdana, sans-serif" textLength="39.8" lengthAdjust="spacingAndGlyphs" stroke="#f23a3a" stroke-width="0.2">, 1.569</text>
<text x="193.8" y="431.3" font-size="10.3" fill="#3c9ad0" font-family="'DejaVu Sans', Verdana, sans-serif" textLength="39.8" lengthAdjust="spacingAndGlyphs" stroke="#3c9ad0" stroke-width="0.2">, 0.460</text>
<line x1="16.5" y1="28" x2="16.5" y2="126.5" stroke="#a8a8a8" stroke-width="1"/>
<line x1="673.5" y1="28" x2="673.5" y2="126.5" stroke="#a8a8a8" stroke-width="1"/>
<line x1="16.5" y1="126" x2="16.5" y2="406.5" stroke="#a8a8a8" stroke-width="1"/>
<line x1="673.5" y1="126" x2="673.5" y2="406.5" stroke="#a8a8a8" stroke-width="1"/>
<line x1="16.5" y1="420" x2="16.5" y2="518.5" stroke="#a8a8a8" stroke-width="1"/>
<line x1="673.5" y1="420" x2="673.5" y2="518.5" stroke="#a8a8a8" stroke-width="1"/>
<line x1="16" y1="28.5" x2="674" y2="28.5" stroke="#a8a8a8" stroke-width="1"/>
<line x1="16" y1="126.5" x2="674" y2="126.5" stroke="#b0b0b0" stroke-width="1"/>
<line x1="16" y1="406.5" x2="674" y2="406.5" stroke="#a8a8a8" stroke-width="1"/>
<line x1="16" y1="420.5" x2="674" y2="420.5" stroke="#a8a8a8" stroke-width="1"/>
<line x1="16" y1="518.5" x2="674" y2="518.5" stroke="#a8a8a8" stroke-width="1"/>
<line x1="16.5" y1="407" x2="16.5" y2="408.5" stroke="#c0c0c0" stroke-width="1"/>
<line x1="16.5" y1="418.5" x2="16.5" y2="420" stroke="#c0c0c0" stroke-width="1"/>
<line x1="16.5" y1="519" x2="16.5" y2="520.5" stroke="#c0c0c0" stroke-width="1"/>
<line x1="21.5" y1="407" x2="21.5" y2="408.5" stroke="#c0c0c0" stroke-width="1"/>
<line x1="21.5" y1="418.5" x2="21.5" y2="420" stroke="#c0c0c0" stroke-width="1"/>
<line x1="21.5" y1="519" x2="21.5" y2="520.5" stroke="#c0c0c0" stroke-width="1"/>
<line x1="26.5" y1="407" x2="26.5" y2="408.5" stroke="#c0c0c0" stroke-width="1"/>
<line x1="26.5" y1="418.5" x2="26.5" y2="420" stroke="#c0c0c0" stroke-width="1"/>
<line x1="26.5" y1="519" x2="26.5" y2="520.5" stroke="#c0c0c0" stroke-width="1"/>
<line x1="31.5" y1="407" x2="31.5" y2="408.5" stroke="#c0c0c0" stroke-width="1"/>
<line x1="31.5" y1="418.5" x2="31.5" y2="420" stroke="#c0c0c0" stroke-width="1"/>
<line x1="31.5" y1="519" x2="31.5" y2="520.5" stroke="#c0c0c0" stroke-width="1"/>
<line x1="36.5" y1="407" x2="36.5" y2="408.5" stroke="#c0c0c0" stroke-width="1"/>
<line x1="36.5" y1="418.5" x2="36.5" y2="420" stroke="#c0c0c0" stroke-width="1"/>
<line x1="36.5" y1="519" x2="36.5" y2="520.5" stroke="#c0c0c0" stroke-width="1"/>
<line x1="41.5" y1="407" x2="41.5" y2="408.5" stroke="#c0c0c0" stroke-width="1"/>
<line x1="41.5" y1="418.5" x2="41.5" y2="420" stroke="#c0c0c0" stroke-width="1"/>
<line x1="41.5" y1="519" x2="41.5" y2="520.5" stroke="#c0c0c0" stroke-width="1"/>
<line x1="46.5" y1="407" x2="46.5" y2="408.5" stroke="#c0c0c0" stroke-width="1"/>
<line x1="46.5" y1="418.5" x2="46.5" y2="420" stroke="#c0c0c0" stroke-width="1"/>
<line x1="46.5" y1="519" x2="46.5" y2="520.5" stroke="#c0c0c0" stroke-width="1"/>
<line x1="51.5" y1="407" x2="51.5" y2="408.5" stroke="#c0c0c0" stroke-width="1"/>
<line x1="51.5" y1="418.5" x2="51.5" y2="420" stroke="#c0c0c0" stroke-width="1"/>
<line x1="51.5" y1="519" x2="51.5" y2="520.5" stroke="#c0c0c0" stroke-width="1"/>
<line x1="56.5" y1="407" x2="56.5" y2="408.5" stroke="#c0c0c0" stroke-width="1"/>
<line x1="56.5" y1="418.5" x2="56.5" y2="420" stroke="#c0c0c0" stroke-width="1"/>
<line x1="56.5" y1="519" x2="56.5" y2="520.5" stroke="#c0c0c0" stroke-width="1"/>
<line x1="61.5" y1="407" x2="61.5" y2="408.5" stroke="#c0c0c0" stroke-width="1"/>
<line x1="61.5" y1="418.5" x2="61.5" y2="420" stroke="#c0c0c0" stroke-width="1"/>
<line x1="61.5" y1="519" x2="61.5" y2="520.5" stroke="#c0c0c0" stroke-width="1"/>
<line x1="66.5" y1="407" x2="66.5" y2="408.5" stroke="#c0c0c0" stroke-width="1"/>
<line x1="66.5" y1="418.5" x2="66.5" y2="420" stroke="#c0c0c0" stroke-width="1"/>
<line x1="66.5" y1="519" x2="66.5" y2="520.5" stroke="#c0c0c0" stroke-width="1"/>
<line x1="71.5" y1="407" x2="71.5" y2="408.5" stroke="#c0c0c0" stroke-width="1"/>
<line x1="71.5" y1="418.5" x2="71.5" y2="420" stroke="#c0c0c0" stroke-width="1"/>
<line x1="71.5" y1="519" x2="71.5" y2="520.5" stroke="#c0c0c0" stroke-width="1"/>
<line x1="76.5" y1="407" x2="76.5" y2="408.5" stroke="#c0c0c0" stroke-width="1"/>
<line x1="76.5" y1="418.5" x2="76.5" y2="420" stroke="#c0c0c0" stroke-width="1"/>
<line x1="76.5" y1="519" x2="76.5" y2="520.5" stroke="#c0c0c0" stroke-width="1"/>
<line x1="81.5" y1="407" x2="81.5" y2="408.5" stroke="#c0c0c0" stroke-width="1"/>
<line x1="81.5" y1="418.5" x2="81.5" y2="420" stroke="#c0c0c0" stroke-width="1"/>
<line x1="81.5" y1="519" x2="81.5" y2="520.5" stroke="#c0c0c0" stroke-width="1"/>
<line x1="86.5" y1="407" x2="86.5" y2="408.5" stroke="#c0c0c0" stroke-width="1"/>
<line x1="86.5" y1="418.5" x2="86.5" y2="420" stroke="#c0c0c0" stroke-width="1"/>
<line x1="86.5" y1="519" x2="86.5" y2="520.5" stroke="#c0c0c0" stroke-width="1"/>
<line x1="91.5" y1="407" x2="91.5" y2="408.5" stroke="#c0c0c0" stroke-width="1"/>
<line x1="91.5" y1="418.5" x2="91.5" y2="420" stroke="#c0c0c0" stroke-width="1"/>
<line x1="91.5" y1="519" x2="91.5" y2="520.5" stroke="#c0c0c0" stroke-width="1"/>
<line x1="96.5" y1="407" x2="96.5" y2="408.5" stroke="#c0c0c0" stroke-width="1"/>
<line x1="96.5" y1="418.5" x2="96.5" y2="420" stroke="#c0c0c0" stroke-width="1"/>
<line x1="96.5" y1="519" x2="96.5" y2="520.5" stroke="#c0c0c0" stroke-width="1"/>
<line x1="101.5" y1="407" x2="101.5" y2="408.5" stroke="#c0c0c0" stroke-width="1"/>
<line x1="101.5" y1="418.5" x2="101.5" y2="420" stroke="#c0c0c0" stroke-width="1"/>
<line x1="101.5" y1="519" x2="101.5" y2="520.5" stroke="#c0c0c0" stroke-width="1"/>
<line x1="107.5" y1="407" x2="107.5" y2="408.5" stroke="#c0c0c0" stroke-width="1"/>
<line x1="107.5" y1="418.5" x2="107.5" y2="420" stroke="#c0c0c0" stroke-width="1"/>
<line x1="107.5" y1="519" x2="107.5" y2="520.5" stroke="#c0c0c0" stroke-width="1"/>
<line x1="112.5" y1="407" x2="112.5" y2="408.5" stroke="#c0c0c0" stroke-width="1"/>
<line x1="112.5" y1="418.5" x2="112.5" y2="420" stroke="#c0c0c0" stroke-width="1"/>
<line x1="112.5" y1="519" x2="112.5" y2="520.5" stroke="#c0c0c0" stroke-width="1"/>
<line x1="117.5" y1="407" x2="117.5" y2="408.5" stroke="#c0c0c0" stroke-width="1"/>
<line x1="117.5" y1="418.5" x2="117.5" y2="420" stroke="#c0c0c0" stroke-width="1"/>
<line x1="117.5" y1="519" x2="117.5" y2="520.5" stroke="#c0c0c0" stroke-width="1"/>
<line x1="122.5" y1="407" x2="122.5" y2="408.5" stroke="#c0c0c0" stroke-width="1"/>
<line x1="122.5" y1="418.5" x2="122.5" y2="420" stroke="#c0c0c0" stroke-width="1"/>
<line x1="122.5" y1="519" x2="122.5" y2="520.5" stroke="#c0c0c0" stroke-width="1"/>
<line x1="127.5" y1="407" x2="127.5" y2="408.5" stroke="#c0c0c0" stroke-width="1"/>
<line x1="127.5" y1="418.5" x2="127.5" y2="420" stroke="#c0c0c0" stroke-width="1"/>
<line x1="127.5" y1="519" x2="127.5" y2="520.5" stroke="#c0c0c0" stroke-width="1"/>
<line x1="132.5" y1="407" x2="132.5" y2="408.5" stroke="#c0c0c0" stroke-width="1"/>
<line x1="132.5" y1="418.5" x2="132.5" y2="420" stroke="#c0c0c0" stroke-width="1"/>
<line x1="132.5" y1="519" x2="132.5" y2="520.5" stroke="#c0c0c0" stroke-width="1"/>
<line x1="137.5" y1="407" x2="137.5" y2="408.5" stroke="#c0c0c0" stroke-width="1"/>
<line x1="137.5" y1="418.5" x2="137.5" y2="420" stroke="#c0c0c0" stroke-width="1"/>
<line x1="137.5" y1="519" x2="137.5" y2="520.5" stroke="#c0c0c0" stroke-width="1"/>
<line x1="142.5" y1="407" x2="142.5" y2="408.5" stroke="#c0c0c0" stroke-width="1"/>
<line x1="142.5" y1="418.5" x2="142.5" y2="420" stroke="#c0c0c0" stroke-width="1"/>
<line x1="142.5" y1="519" x2="142.5" y2="520.5" stroke="#c0c0c0" stroke-width="1"/>
<line x1="147.5" y1="407" x2="147.5" y2="408.5" stroke="#c0c0c0" stroke-width="1"/>
<line x1="147.5" y1="418.5" x2="147.5" y2="420" stroke="#c0c0c0" stroke-width="1"/>
<line x1="147.5" y1="519" x2="147.5" y2="520.5" stroke="#c0c0c0" stroke-width="1"/>
<line x1="152.5" y1="407" x2="152.5" y2="408.5" stroke="#c0c0c0" stroke-width="1"/>
<line x1="152.5" y1="418.5" x2="152.5" y2="420" stroke="#c0c0c0" stroke-width="1"/>
<line x1="152.5" y1="519" x2="152.5" y2="520.5" stroke="#c0c0c0" stroke-width="1"/>
<line x1="157.5" y1="407" x2="157.5" y2="408.5" stroke="#c0c0c0" stroke-width="1"/>
<line x1="157.5" y1="418.5" x2="157.5" y2="420" stroke="#c0c0c0" stroke-width="1"/>
<line x1="157.5" y1="519" x2="157.5" y2="520.5" stroke="#c0c0c0" stroke-width="1"/>
<line x1="162.5" y1="407" x2="162.5" y2="408.5" stroke="#c0c0c0" stroke-width="1"/>
<line x1="162.5" y1="418.5" x2="162.5" y2="420" stroke="#c0c0c0" stroke-width="1"/>
<line x1="162.5" y1="519" x2="162.5" y2="520.5" stroke="#c0c0c0" stroke-width="1"/>
<line x1="167.5" y1="407" x2="167.5" y2="408.5" stroke="#c0c0c0" stroke-width="1"/>
<line x1="167.5" y1="418.5" x2="167.5" y2="420" stroke="#c0c0c0" stroke-width="1"/>
<line x1="167.5" y1="519" x2="167.5" y2="520.5" stroke="#c0c0c0" stroke-width="1"/>
<line x1="172.5" y1="407" x2="172.5" y2="408.5" stroke="#c0c0c0" stroke-width="1"/>
<line x1="172.5" y1="418.5" x2="172.5" y2="420" stroke="#c0c0c0" stroke-width="1"/>
<line x1="172.5" y1="519" x2="172.5" y2="520.5" stroke="#c0c0c0" stroke-width="1"/>
<line x1="177.5" y1="407" x2="177.5" y2="408.5" stroke="#c0c0c0" stroke-width="1"/>
<line x1="177.5" y1="418.5" x2="177.5" y2="420" stroke="#c0c0c0" stroke-width="1"/>
<line x1="177.5" y1="519" x2="177.5" y2="520.5" stroke="#c0c0c0" stroke-width="1"/>
<line x1="182.5" y1="407" x2="182.5" y2="408.5" stroke="#c0c0c0" stroke-width="1"/>
<line x1="182.5" y1="418.5" x2="182.5" y2="420" stroke="#c0c0c0" stroke-width="1"/>
<line x1="182.5" y1="519" x2="182.5" y2="520.5" stroke="#c0c0c0" stroke-width="1"/>
<line x1="187.5" y1="407" x2="187.5" y2="408.5" stroke="#c0c0c0" stroke-width="1"/>
<line x1="187.5" y1="418.5" x2="187.5" y2="420" stroke="#c0c0c0" stroke-width="1"/>
<line x1="187.5" y1="519" x2="187.5" y2="520.5" stroke="#c0c0c0" stroke-width="1"/>
<line x1="192.5" y1="407" x2="192.5" y2="408.5" stroke="#c0c0c0" stroke-width="1"/>
<line x1="192.5" y1="418.5" x2="192.5" y2="420" stroke="#c0c0c0" stroke-width="1"/>
<line x1="192.5" y1="519" x2="192.5" y2="520.5" stroke="#c0c0c0" stroke-width="1"/>
<line x1="197.5" y1="407" x2="197.5" y2="408.5" stroke="#c0c0c0" stroke-width="1"/>
<line x1="197.5" y1="418.5" x2="197.5" y2="420" stroke="#c0c0c0" stroke-width="1"/>
<line x1="197.5" y1="519" x2="197.5" y2="520.5" stroke="#c0c0c0" stroke-width="1"/>
<line x1="202.5" y1="407" x2="202.5" y2="408.5" stroke="#c0c0c0" stroke-width="1"/>
<line x1="202.5" y1="418.5" x2="202.5" y2="420" stroke="#c0c0c0" stroke-width="1"/>
<line x1="202.5" y1="519" x2="202.5" y2="520.5" stroke="#c0c0c0" stroke-width="1"/>
<line x1="207.5" y1="407" x2="207.5" y2="408.5" stroke="#c0c0c0" stroke-width="1"/>
<line x1="207.5" y1="418.5" x2="207.5" y2="420" stroke="#c0c0c0" stroke-width="1"/>
<line x1="207.5" y1="519" x2="207.5" y2="520.5" stroke="#c0c0c0" stroke-width="1"/>
<line x1="212.5" y1="407" x2="212.5" y2="408.5" stroke="#c0c0c0" stroke-width="1"/>
<line x1="212.5" y1="418.5" x2="212.5" y2="420" stroke="#c0c0c0" stroke-width="1"/>
<line x1="212.5" y1="519" x2="212.5" y2="520.5" stroke="#c0c0c0" stroke-width="1"/>
<line x1="217.5" y1="407" x2="217.5" y2="408.5" stroke="#c0c0c0" stroke-width="1"/>
<line x1="217.5" y1="418.5" x2="217.5" y2="420" stroke="#c0c0c0" stroke-width="1"/>
<line x1="217.5" y1="519" x2="217.5" y2="520.5" stroke="#c0c0c0" stroke-width="1"/>
<line x1="222.5" y1="407" x2="222.5" y2="408.5" stroke="#c0c0c0" stroke-width="1"/>
<line x1="222.5" y1="418.5" x2="222.5" y2="420" stroke="#c0c0c0" stroke-width="1"/>
<line x1="222.5" y1="519" x2="222.5" y2="520.5" stroke="#c0c0c0" stroke-width="1"/>
<line x1="227.5" y1="407" x2="227.5" y2="408.5" stroke="#c0c0c0" stroke-width="1"/>
<line x1="227.5" y1="418.5" x2="227.5" y2="420" stroke="#c0c0c0" stroke-width="1"/>
<line x1="227.5" y1="519" x2="227.5" y2="520.5" stroke="#c0c0c0" stroke-width="1"/>
<line x1="233.5" y1="407" x2="233.5" y2="408.5" stroke="#c0c0c0" stroke-width="1"/>
<line x1="233.5" y1="418.5" x2="233.5" y2="420" stroke="#c0c0c0" stroke-width="1"/>
<line x1="233.5" y1="519" x2="233.5" y2="520.5" stroke="#c0c0c0" stroke-width="1"/>
<line x1="238.5" y1="407" x2="238.5" y2="408.5" stroke="#c0c0c0" stroke-width="1"/>
<line x1="238.5" y1="418.5" x2="238.5" y2="420" stroke="#c0c0c0" stroke-width="1"/>
<line x1="238.5" y1="519" x2="238.5" y2="520.5" stroke="#c0c0c0" stroke-width="1"/>
<line x1="243.5" y1="407" x2="243.5" y2="408.5" stroke="#c0c0c0" stroke-width="1"/>
<line x1="243.5" y1="418.5" x2="243.5" y2="420" stroke="#c0c0c0" stroke-width="1"/>
<line x1="243.5" y1="519" x2="243.5" y2="520.5" stroke="#c0c0c0" stroke-width="1"/>
<line x1="248.5" y1="407" x2="248.5" y2="408.5" stroke="#c0c0c0" stroke-width="1"/>
<line x1="248.5" y1="418.5" x2="248.5" y2="420" stroke="#c0c0c0" stroke-width="1"/>
<line x1="248.5" y1="519" x2="248.5" y2="520.5" stroke="#c0c0c0" stroke-width="1"/>
<line x1="253.5" y1="407" x2="253.5" y2="408.5" stroke="#c0c0c0" stroke-width="1"/>
<line x1="253.5" y1="418.5" x2="253.5" y2="420" stroke="#c0c0c0" stroke-width="1"/>
<line x1="253.5" y1="519" x2="253.5" y2="520.5" stroke="#c0c0c0" stroke-width="1"/>
<line x1="258.5" y1="407" x2="258.5" y2="408.5" stroke="#c0c0c0" stroke-width="1"/>
<line x1="258.5" y1="418.5" x2="258.5" y2="420" stroke="#c0c0c0" stroke-width="1"/>
<line x1="258.5" y1="519" x2="258.5" y2="520.5" stroke="#c0c0c0" stroke-width="1"/>
<line x1="263.5" y1="407" x2="263.5" y2="408.5" stroke="#c0c0c0" stroke-width="1"/>
<line x1="263.5" y1="418.5" x2="263.5" y2="420" stroke="#c0c0c0" stroke-width="1"/>
<line x1="263.5" y1="519" x2="263.5" y2="520.5" stroke="#c0c0c0" stroke-width="1"/>
<line x1="268.5" y1="407" x2="268.5" y2="408.5" stroke="#c0c0c0" stroke-width="1"/>
<line x1="268.5" y1="418.5" x2="268.5" y2="420" stroke="#c0c0c0" stroke-width="1"/>
<line x1="268.5" y1="519" x2="268.5" y2="520.5" stroke="#c0c0c0" stroke-width="1"/>
<line x1="273.5" y1="407" x2="273.5" y2="408.5" stroke="#c0c0c0" stroke-width="1"/>
<line x1="273.5" y1="418.5" x2="273.5" y2="420" stroke="#c0c0c0" stroke-width="1"/>
<line x1="273.5" y1="519" x2="273.5" y2="520.5" stroke="#c0c0c0" stroke-width="1"/>
<line x1="278.5" y1="407" x2="278.5" y2="408.5" stroke="#c0c0c0" stroke-width="1"/>
<line x1="278.5" y1="418.5" x2="278.5" y2="420" stroke="#c0c0c0" stroke-width="1"/>
<line x1="278.5" y1="519" x2="278.5" y2="520.5" stroke="#c0c0c0" stroke-width="1"/>
<line x1="283.5" y1="407" x2="283.5" y2="408.5" stroke="#c0c0c0" stroke-width="1"/>
<line x1="283.5" y1="418.5" x2="283.5" y2="420" stroke="#c0c0c0" stroke-width="1"/>
<line x1="283.5" y1="519" x2="283.5" y2="520.5" stroke="#c0c0c0" stroke-width="1"/>
<line x1="288.5" y1="407" x2="288.5" y2="408.5" stroke="#c0c0c0" stroke-width="1"/>
<line x1="288.5" y1="418.5" x2="288.5" y2="420" stroke="#c0c0c0" stroke-width="1"/>
<line x1="288.5" y1="519" x2="288.5" y2="520.5" stroke="#c0c0c0" stroke-width="1"/>
<line x1="293.5" y1="407" x2="293.5" y2="408.5" stroke="#c0c0c0" stroke-width="1"/>
<line x1="293.5" y1="418.5" x2="293.5" y2="420" stroke="#c0c0c0" stroke-width="1"/>
<line x1="293.5" y1="519" x2="293.5" y2="520.5" stroke="#c0c0c0" stroke-width="1"/>
<line x1="298.5" y1="407" x2="298.5" y2="408.5" stroke="#c0c0c0" stroke-width="1"/>
<line x1="298.5" y1="418.5" x2="298.5" y2="420" stroke="#c0c0c0" stroke-width="1"/>
<line x1="298.5" y1="519" x2="298.5" y2="520.5" stroke="#c0c0c0" stroke-width="1"/>
<line x1="303.5" y1="407" x2="303.5" y2="408.5" stroke="#c0c0c0" stroke-width="1"/>
<line x1="303.5" y1="418.5" x2="303.5" y2="420" stroke="#c0c0c0" stroke-width="1"/>
<line x1="303.5" y1="519" x2="303.5" y2="520.5" stroke="#c0c0c0" stroke-width="1"/>
<line x1="308.5" y1="407" x2="308.5" y2="408.5" stroke="#c0c0c0" stroke-width="1"/>
<line x1="308.5" y1="418.5" x2="308.5" y2="420" stroke="#c0c0c0" stroke-width="1"/>
<line x1="308.5" y1="519" x2="308.5" y2="520.5" stroke="#c0c0c0" stroke-width="1"/>
<line x1="313.5" y1="407" x2="313.5" y2="408.5" stroke="#c0c0c0" stroke-width="1"/>
<line x1="313.5" y1="418.5" x2="313.5" y2="420" stroke="#c0c0c0" stroke-width="1"/>
<line x1="313.5" y1="519" x2="313.5" y2="520.5" stroke="#c0c0c0" stroke-width="1"/>
<line x1="318.5" y1="407" x2="318.5" y2="408.5" stroke="#c0c0c0" stroke-width="1"/>
<line x1="318.5" y1="418.5" x2="318.5" y2="420" stroke="#c0c0c0" stroke-width="1"/>
<line x1="318.5" y1="519" x2="318.5" y2="520.5" stroke="#c0c0c0" stroke-width="1"/>
<line x1="323.5" y1="407" x2="323.5" y2="408.5" stroke="#c0c0c0" stroke-width="1"/>
<line x1="323.5" y1="418.5" x2="323.5" y2="420" stroke="#c0c0c0" stroke-width="1"/>
<line x1="323.5" y1="519" x2="323.5" y2="520.5" stroke="#c0c0c0" stroke-width="1"/>
<line x1="328.5" y1="407" x2="328.5" y2="408.5" stroke="#c0c0c0" stroke-width="1"/>
<line x1="328.5" y1="418.5" x2="328.5" y2="420" stroke="#c0c0c0" stroke-width="1"/>
<line x1="328.5" y1="519" x2="328.5" y2="520.5" stroke="#c0c0c0" stroke-width="1"/>
<line x1="333.5" y1="407" x2="333.5" y2="408.5" stroke="#c0c0c0" stroke-width="1"/>
<line x1="333.5" y1="418.5" x2="333.5" y2="420" stroke="#c0c0c0" stroke-width="1"/>
<line x1="333.5" y1="519" x2="333.5" y2="520.5" stroke="#c0c0c0" stroke-width="1"/>
<line x1="338.5" y1="407" x2="338.5" y2="408.5" stroke="#c0c0c0" stroke-width="1"/>
<line x1="338.5" y1="418.5" x2="338.5" y2="420" stroke="#c0c0c0" stroke-width="1"/>
<line x1="338.5" y1="519" x2="338.5" y2="520.5" stroke="#c0c0c0" stroke-width="1"/>
<line x1="343.5" y1="407" x2="343.5" y2="408.5" stroke="#c0c0c0" stroke-width="1"/>
<line x1="343.5" y1="418.5" x2="343.5" y2="420" stroke="#c0c0c0" stroke-width="1"/>
<line x1="343.5" y1="519" x2="343.5" y2="520.5" stroke="#c0c0c0" stroke-width="1"/>
<line x1="348.5" y1="407" x2="348.5" y2="408.5" stroke="#c0c0c0" stroke-width="1"/>
<line x1="348.5" y1="418.5" x2="348.5" y2="420" stroke="#c0c0c0" stroke-width="1"/>
<line x1="348.5" y1="519" x2="348.5" y2="520.5" stroke="#c0c0c0" stroke-width="1"/>
<line x1="353.5" y1="407" x2="353.5" y2="408.5" stroke="#c0c0c0" stroke-width="1"/>
<line x1="353.5" y1="418.5" x2="353.5" y2="420" stroke="#c0c0c0" stroke-width="1"/>
<line x1="353.5" y1="519" x2="353.5" y2="520.5" stroke="#c0c0c0" stroke-width="1"/>
<line x1="359.5" y1="407" x2="359.5" y2="408.5" stroke="#c0c0c0" stroke-width="1"/>
<line x1="359.5" y1="418.5" x2="359.5" y2="420" stroke="#c0c0c0" stroke-width="1"/>
<line x1="359.5" y1="519" x2="359.5" y2="520.5" stroke="#c0c0c0" stroke-width="1"/>
<line x1="364.5" y1="407" x2="364.5" y2="408.5" stroke="#c0c0c0" stroke-width="1"/>
<line x1="364.5" y1="418.5" x2="364.5" y2="420" stroke="#c0c0c0" stroke-width="1"/>
<line x1="364.5" y1="519" x2="364.5" y2="520.5" stroke="#c0c0c0" stroke-width="1"/>
<line x1="369.5" y1="407" x2="369.5" y2="408.5" stroke="#c0c0c0" stroke-width="1"/>
<line x1="369.5" y1="418.5" x2="369.5" y2="420" stroke="#c0c0c0" stroke-width="1"/>
<line x1="369.5" y1="519" x2="369.5" y2="520.5" stroke="#c0c0c0" stroke-width="1"/>
<line x1="374.5" y1="407" x2="374.5" y2="408.5" stroke="#c0c0c0" stroke-width="1"/>
<line x1="374.5" y1="418.5" x2="374.5" y2="420" stroke="#c0c0c0" stroke-width="1"/>
<line x1="374.5" y1="519" x2="374.5" y2="520.5" stroke="#c0c0c0" stroke-width="1"/>
<line x1="379.5" y1="407" x2="379.5" y2="408.5" stroke="#c0c0c0" stroke-width="1"/>
<line x1="379.5" y1="418.5" x2="379.5" y2="420" stroke="#c0c0c0" stroke-width="1"/>
<line x1="379.5" y1="519" x2="379.5" y2="520.5" stroke="#c0c0c0" stroke-width="1"/>
<line x1="384.5" y1="407" x2="384.5" y2="408.5" stroke="#c0c0c0" stroke-width="1"/>
<line x1="384.5" y1="418.5" x2="384.5" y2="420" stroke="#c0c0c0" stroke-width="1"/>
<line x1="384.5" y1="519" x2="384.5" y2="520.5" stroke="#c0c0c0" stroke-width="1"/>
<line x1="389.5" y1="407" x2="389.5" y2="408.5" stroke="#c0c0c0" stroke-width="1"/>
<line x1="389.5" y1="418.5" x2="389.5" y2="420" stroke="#c0c0c0" stroke-width="1"/>
<line x1="389.5" y1="519" x2="389.5" y2="520.5" stroke="#c0c0c0" stroke-width="1"/>
<line x1="394.5" y1="407" x2="394.5" y2="408.5" stroke="#c0c0c0" stroke-width="1"/>
<line x1="394.5" y1="418.5" x2="394.5" y2="420" stroke="#c0c0c0" stroke-width="1"/>
<line x1="394.5" y1="519" x2="394.5" y2="520.5" stroke="#c0c0c0" stroke-width="1"/>
<line x1="399.5" y1="407" x2="399.5" y2="408.5" stroke="#c0c0c0" stroke-width="1"/>
<line x1="399.5" y1="418.5" x2="399.5" y2="420" stroke="#c0c0c0" stroke-width="1"/>
<line x1="399.5" y1="519" x2="399.5" y2="520.5" stroke="#c0c0c0" stroke-width="1"/>
<line x1="404.5" y1="407" x2="404.5" y2="408.5" stroke="#c0c0c0" stroke-width="1"/>
<line x1="404.5" y1="418.5" x2="404.5" y2="420" stroke="#c0c0c0" stroke-width="1"/>
<line x1="404.5" y1="519" x2="404.5" y2="520.5" stroke="#c0c0c0" stroke-width="1"/>
<line x1="409.5" y1="407" x2="409.5" y2="408.5" stroke="#c0c0c0" stroke-width="1"/>
<line x1="409.5" y1="418.5" x2="409.5" y2="420" stroke="#c0c0c0" stroke-width="1"/>
<line x1="409.5" y1="519" x2="409.5" y2="520.5" stroke="#c0c0c0" stroke-width="1"/>
<line x1="414.5" y1="407" x2="414.5" y2="408.5" stroke="#c0c0c0" stroke-width="1"/>
<line x1="414.5" y1="418.5" x2="414.5" y2="420" stroke="#c0c0c0" stroke-width="1"/>
<line x1="414.5" y1="519" x2="414.5" y2="520.5" stroke="#c0c0c0" stroke-width="1"/>
<line x1="419.5" y1="407" x2="419.5" y2="408.5" stroke="#c0c0c0" stroke-width="1"/>
<line x1="419.5" y1="418.5" x2="419.5" y2="420" stroke="#c0c0c0" stroke-width="1"/>
<line x1="419.5" y1="519" x2="419.5" y2="520.5" stroke="#c0c0c0" stroke-width="1"/>
<line x1="424.5" y1="407" x2="424.5" y2="408.5" stroke="#c0c0c0" stroke-width="1"/>
<line x1="424.5" y1="418.5" x2="424.5" y2="420" stroke="#c0c0c0" stroke-width="1"/>
<line x1="424.5" y1="519" x2="424.5" y2="520.5" stroke="#c0c0c0" stroke-width="1"/>
<line x1="429.5" y1="407" x2="429.5" y2="408.5" stroke="#c0c0c0" stroke-width="1"/>
<line x1="429.5" y1="418.5" x2="429.5" y2="420" stroke="#c0c0c0" stroke-width="1"/>
<line x1="429.5" y1="519" x2="429.5" y2="520.5" stroke="#c0c0c0" stroke-width="1"/>
<line x1="434.5" y1="407" x2="434.5" y2="408.5" stroke="#c0c0c0" stroke-width="1"/>
<line x1="434.5" y1="418.5" x2="434.5" y2="420" stroke="#c0c0c0" stroke-width="1"/>
<line x1="434.5" y1="519" x2="434.5" y2="520.5" stroke="#c0c0c0" stroke-width="1"/>
<line x1="439.5" y1="407" x2="439.5" y2="408.5" stroke="#c0c0c0" stroke-width="1"/>
<line x1="439.5" y1="418.5" x2="439.5" y2="420" stroke="#c0c0c0" stroke-width="1"/>
<line x1="439.5" y1="519" x2="439.5" y2="520.5" stroke="#c0c0c0" stroke-width="1"/>
<line x1="444.5" y1="407" x2="444.5" y2="408.5" stroke="#c0c0c0" stroke-width="1"/>
<line x1="444.5" y1="418.5" x2="444.5" y2="420" stroke="#c0c0c0" stroke-width="1"/>
<line x1="444.5" y1="519" x2="444.5" y2="520.5" stroke="#c0c0c0" stroke-width="1"/>
<line x1="449.5" y1="407" x2="449.5" y2="408.5" stroke="#c0c0c0" stroke-width="1"/>
<line x1="449.5" y1="418.5" x2="449.5" y2="420" stroke="#c0c0c0" stroke-width="1"/>
<line x1="449.5" y1="519" x2="449.5" y2="520.5" stroke="#c0c0c0" stroke-width="1"/>
<line x1="454.5" y1="407" x2="454.5" y2="408.5" stroke="#c0c0c0" stroke-width="1"/>
<line x1="454.5" y1="418.5" x2="454.5" y2="420" stroke="#c0c0c0" stroke-width="1"/>
<line x1="454.5" y1="519" x2="454.5" y2="520.5" stroke="#c0c0c0" stroke-width="1"/>
<line x1="459.5" y1="407" x2="459.5" y2="408.5" stroke="#c0c0c0" stroke-width="1"/>
<line x1="459.5" y1="418.5" x2="459.5" y2="420" stroke="#c0c0c0" stroke-width="1"/>
<line x1="459.5" y1="519" x2="459.5" y2="520.5" stroke="#c0c0c0" stroke-width="1"/>
<line x1="464.5" y1="407" x2="464.5" y2="408.5" stroke="#c0c0c0" stroke-width="1"/>
<line x1="464.5" y1="418.5" x2="464.5" y2="420" stroke="#c0c0c0" stroke-width="1"/>
<line x1="464.5" y1="519" x2="464.5" y2="520.5" stroke="#c0c0c0" stroke-width="1"/>
<line x1="469.5" y1="407" x2="469.5" y2="408.5" stroke="#c0c0c0" stroke-width="1"/>
<line x1="469.5" y1="418.5" x2="469.5" y2="420" stroke="#c0c0c0" stroke-width="1"/>
<line x1="469.5" y1="519" x2="469.5" y2="520.5" stroke="#c0c0c0" stroke-width="1"/>
<line x1="474.5" y1="407" x2="474.5" y2="408.5" stroke="#c0c0c0" stroke-width="1"/>
<line x1="474.5" y1="418.5" x2="474.5" y2="420" stroke="#c0c0c0" stroke-width="1"/>
<line x1="474.5" y1="519" x2="474.5" y2="520.5" stroke="#c0c0c0" stroke-width="1"/>
<line x1="479.5" y1="407" x2="479.5" y2="408.5" stroke="#c0c0c0" stroke-width="1"/>
<line x1="479.5" y1="418.5" x2="479.5" y2="420" stroke="#c0c0c0" stroke-width="1"/>
<line x1="479.5" y1="519" x2="479.5" y2="520.5" stroke="#c0c0c0" stroke-width="1"/>
<line x1="485.5" y1="407" x2="485.5" y2="408.5" stroke="#c0c0c0" stroke-width="1"/>
<line x1="485.5" y1="418.5" x2="485.5" y2="420" stroke="#c0c0c0" stroke-width="1"/>
<line x1="485.5" y1="519" x2="485.5" y2="520.5" stroke="#c0c0c0" stroke-width="1"/>
<line x1="490.5" y1="407" x2="490.5" y2="408.5" stroke="#c0c0c0" stroke-width="1"/>
<line x1="490.5" y1="418.5" x2="490.5" y2="420" stroke="#c0c0c0" stroke-width="1"/>
<line x1="490.5" y1="519" x2="490.5" y2="520.5" stroke="#c0c0c0" stroke-width="1"/>
<line x1="495.5" y1="407" x2="495.5" y2="408.5" stroke="#c0c0c0" stroke-width="1"/>
<line x1="495.5" y1="418.5" x2="495.5" y2="420" stroke="#c0c0c0" stroke-width="1"/>
<line x1="495.5" y1="519" x2="495.5" y2="520.5" stroke="#c0c0c0" stroke-width="1"/>
<line x1="500.5" y1="407" x2="500.5" y2="408.5" stroke="#c0c0c0" stroke-width="1"/>
<line x1="500.5" y1="418.5" x2="500.5" y2="420" stroke="#c0c0c0" stroke-width="1"/>
<line x1="500.5" y1="519" x2="500.5" y2="520.5" stroke="#c0c0c0" stroke-width="1"/>
<line x1="505.5" y1="407" x2="505.5" y2="408.5" stroke="#c0c0c0" stroke-width="1"/>
<line x1="505.5" y1="418.5" x2="505.5" y2="420" stroke="#c0c0c0" stroke-width="1"/>
<line x1="505.5" y1="519" x2="505.5" y2="520.5" stroke="#c0c0c0" stroke-width="1"/>
<line x1="510.5" y1="407" x2="510.5" y2="408.5" stroke="#c0c0c0" stroke-width="1"/>
<line x1="510.5" y1="418.5" x2="510.5" y2="420" stroke="#c0c0c0" stroke-width="1"/>
<line x1="510.5" y1="519" x2="510.5" y2="520.5" stroke="#c0c0c0" stroke-width="1"/>
<line x1="515.5" y1="407" x2="515.5" y2="408.5" stroke="#c0c0c0" stroke-width="1"/>
<line x1="515.5" y1="418.5" x2="515.5" y2="420" stroke="#c0c0c0" stroke-width="1"/>
<line x1="515.5" y1="519" x2="515.5" y2="520.5" stroke="#c0c0c0" stroke-width="1"/>
<line x1="520.5" y1="407" x2="520.5" y2="408.5" stroke="#c0c0c0" stroke-width="1"/>
<line x1="520.5" y1="418.5" x2="520.5" y2="420" stroke="#c0c0c0" stroke-width="1"/>
<line x1="520.5" y1="519" x2="520.5" y2="520.5" stroke="#c0c0c0" stroke-width="1"/>
<line x1="525.5" y1="407" x2="525.5" y2="408.5" stroke="#c0c0c0" stroke-width="1"/>
<line x1="525.5" y1="418.5" x2="525.5" y2="420" stroke="#c0c0c0" stroke-width="1"/>
<line x1="525.5" y1="519" x2="525.5" y2="520.5" stroke="#c0c0c0" stroke-width="1"/>
<line x1="530.5" y1="407" x2="530.5" y2="408.5" stroke="#c0c0c0" stroke-width="1"/>
<line x1="530.5" y1="418.5" x2="530.5" y2="420" stroke="#c0c0c0" stroke-width="1"/>
<line x1="530.5" y1="519" x2="530.5" y2="520.5" stroke="#c0c0c0" stroke-width="1"/>
<line x1="535.5" y1="407" x2="535.5" y2="408.5" stroke="#c0c0c0" stroke-width="1"/>
<line x1="535.5" y1="418.5" x2="535.5" y2="420" stroke="#c0c0c0" stroke-width="1"/>
<line x1="535.5" y1="519" x2="535.5" y2="520.5" stroke="#c0c0c0" stroke-width="1"/>
<line x1="540.5" y1="407" x2="540.5" y2="408.5" stroke="#c0c0c0" stroke-width="1"/>
<line x1="540.5" y1="418.5" x2="540.5" y2="420" stroke="#c0c0c0" stroke-width="1"/>
<line x1="540.5" y1="519" x2="540.5" y2="520.5" stroke="#c0c0c0" stroke-width="1"/>
<line x1="545.5" y1="407" x2="545.5" y2="408.5" stroke="#c0c0c0" stroke-width="1"/>
<line x1="545.5" y1="418.5" x2="545.5" y2="420" stroke="#c0c0c0" stroke-width="1"/>
<line x1="545.5" y1="519" x2="545.5" y2="520.5" stroke="#c0c0c0" stroke-width="1"/>
<line x1="550.5" y1="407" x2="550.5" y2="408.5" stroke="#c0c0c0" stroke-width="1"/>
<line x1="550.5" y1="418.5" x2="550.5" y2="420" stroke="#c0c0c0" stroke-width="1"/>
<line x1="550.5" y1="519" x2="550.5" y2="520.5" stroke="#c0c0c0" stroke-width="1"/>
<line x1="555.5" y1="407" x2="555.5" y2="408.5" stroke="#c0c0c0" stroke-width="1"/>
<line x1="555.5" y1="418.5" x2="555.5" y2="420" stroke="#c0c0c0" stroke-width="1"/>
<line x1="555.5" y1="519" x2="555.5" y2="520.5" stroke="#c0c0c0" stroke-width="1"/>
<line x1="560.5" y1="407" x2="560.5" y2="408.5" stroke="#c0c0c0" stroke-width="1"/>
<line x1="560.5" y1="418.5" x2="560.5" y2="420" stroke="#c0c0c0" stroke-width="1"/>
<line x1="560.5" y1="519" x2="560.5" y2="520.5" stroke="#c0c0c0" stroke-width="1"/>
<line x1="565.5" y1="407" x2="565.5" y2="408.5" stroke="#c0c0c0" stroke-width="1"/>
<line x1="565.5" y1="418.5" x2="565.5" y2="420" stroke="#c0c0c0" stroke-width="1"/>
<line x1="565.5" y1="519" x2="565.5" y2="520.5" stroke="#c0c0c0" stroke-width="1"/>
<line x1="570.5" y1="407" x2="570.5" y2="408.5" stroke="#c0c0c0" stroke-width="1"/>
<line x1="570.5" y1="418.5" x2="570.5" y2="420" stroke="#c0c0c0" stroke-width="1"/>
<line x1="570.5" y1="519" x2="570.5" y2="520.5" stroke="#c0c0c0" stroke-width="1"/>
<line x1="575.5" y1="407" x2="575.5" y2="408.5" stroke="#c0c0c0" stroke-width="1"/>
<line x1="575.5" y1="418.5" x2="575.5" y2="420" stroke="#c0c0c0" stroke-width="1"/>
<line x1="575.5" y1="519" x2="575.5" y2="520.5" stroke="#c0c0c0" stroke-width="1"/>
<line x1="580.5" y1="407" x2="580.5" y2="408.5" stroke="#c0c0c0" stroke-width="1"/>
<line x1="580.5" y1="418.5" x2="580.5" y2="420" stroke="#c0c0c0" stroke-width="1"/>
<line x1="580.5" y1="519" x2="580.5" y2="520.5" stroke="#c0c0c0" stroke-width="1"/>
<line x1="585.5" y1="407" x2="585.5" y2="408.5" stroke="#c0c0c0" stroke-width="1"/>
<line x1="585.5" y1="418.5" x2="585.5" y2="420" stroke="#c0c0c0" stroke-width="1"/>
<line x1="585.5" y1="519" x2="585.5" y2="520.5" stroke="#c0c0c0" stroke-width="1"/>
<line x1="590.5" y1="407" x2="590.5" y2="408.5" stroke="#c0c0c0" stroke-width="1"/>
<line x1="590.5" y1="418.5" x2="590.5" y2="420" stroke="#c0c0c0" stroke-width="1"/>
<line x1="590.5" y1="519" x2="590.5" y2="520.5" stroke="#c0c0c0" stroke-width="1"/>
<line x1="595.5" y1="407" x2="595.5" y2="408.5" stroke="#c0c0c0" stroke-width="1"/>
<line x1="595.5" y1="418.5" x2="595.5" y2="420" stroke="#c0c0c0" stroke-width="1"/>
<line x1="595.5" y1="519" x2="595.5" y2="520.5" stroke="#c0c0c0" stroke-width="1"/>
<line x1="600.5" y1="407" x2="600.5" y2="408.5" stroke="#c0c0c0" stroke-width="1"/>
<line x1="600.5" y1="418.5" x2="600.5" y2="420" stroke="#c0c0c0" stroke-width="1"/>
<line x1="600.5" y1="519" x2="600.5" y2="520.5" stroke="#c0c0c0" stroke-width="1"/>
<line x1="605.5" y1="407" x2="605.5" y2="408.5" stroke="#c0c0c0" stroke-width="1"/>
<line x1="605.5" y1="418.5" x2="605.5" y2="420" stroke="#c0c0c0" stroke-width="1"/>
<line x1="605.5" y1="519" x2="605.5" y2="520.5" stroke="#c0c0c0" stroke-width="1"/>
<line x1="611.5" y1="407" x2="611.5" y2="408.5" stroke="#c0c0c0" stroke-width="1"/>
<line x1="611.5" y1="418.5" x2="611.5" y2="420" stroke="#c0c0c0" stroke-width="1"/>
<line x1="611.5" y1="519" x2="611.5" y2="520.5" stroke="#c0c0c0" stroke-width="1"/>
<line x1="616.5" y1="407" x2="616.5" y2="408.5" stroke="#c0c0c0" stroke-width="1"/>
<line x1="616.5" y1="418.5" x2="616.5" y2="420" stroke="#c0c0c0" stroke-width="1"/>
<line x1="616.5" y1="519" x2="616.5" y2="520.5" stroke="#c0c0c0" stroke-width="1"/>
<line x1="621.5" y1="407" x2="621.5" y2="408.5" stroke="#c0c0c0" stroke-width="1"/>
<line x1="621.5" y1="418.5" x2="621.5" y2="420" stroke="#c0c0c0" stroke-width="1"/>
<line x1="621.5" y1="519" x2="621.5" y2="520.5" stroke="#c0c0c0" stroke-width="1"/>
<line x1="626.5" y1="407" x2="626.5" y2="408.5" stroke="#c0c0c0" stroke-width="1"/>
<line x1="626.5" y1="418.5" x2="626.5" y2="420" stroke="#c0c0c0" stroke-width="1"/>
<line x1="626.5" y1="519" x2="626.5" y2="520.5" stroke="#c0c0c0" stroke-width="1"/>
<line x1="631.5" y1="407" x2="631.5" y2="408.5" stroke="#c0c0c0" stroke-width="1"/>
<line x1="631.5" y1="418.5" x2="631.5" y2="420" stroke="#c0c0c0" stroke-width="1"/>
<line x1="631.5" y1="519" x2="631.5" y2="520.5" stroke="#c0c0c0" stroke-width="1"/>
<line x1="636.5" y1="407" x2="636.5" y2="408.5" stroke="#c0c0c0" stroke-width="1"/>
<line x1="636.5" y1="418.5" x2="636.5" y2="420" stroke="#c0c0c0" stroke-width="1"/>
<line x1="636.5" y1="519" x2="636.5" y2="520.5" stroke="#c0c0c0" stroke-width="1"/>
<line x1="641.5" y1="407" x2="641.5" y2="408.5" stroke="#c0c0c0" stroke-width="1"/>
<line x1="641.5" y1="418.5" x2="641.5" y2="420" stroke="#c0c0c0" stroke-width="1"/>
<line x1="641.5" y1="519" x2="641.5" y2="520.5" stroke="#c0c0c0" stroke-width="1"/>
<line x1="646.5" y1="407" x2="646.5" y2="408.5" stroke="#c0c0c0" stroke-width="1"/>
<line x1="646.5" y1="418.5" x2="646.5" y2="420" stroke="#c0c0c0" stroke-width="1"/>
<line x1="646.5" y1="519" x2="646.5" y2="520.5" stroke="#c0c0c0" stroke-width="1"/>
<line x1="651.5" y1="407" x2="651.5" y2="408.5" stroke="#c0c0c0" stroke-width="1"/>
<line x1="651.5" y1="418.5" x2="651.5" y2="420" stroke="#c0c0c0" stroke-width="1"/>
<line x1="651.5" y1="519" x2="651.5" y2="520.5" stroke="#c0c0c0" stroke-width="1"/>
<line x1="656.5" y1="407" x2="656.5" y2="408.5" stroke="#c0c0c0" stroke-width="1"/>
<line x1="656.5" y1="418.5" x2="656.5" y2="420" stroke="#c0c0c0" stroke-width="1"/>
<line x1="656.5" y1="519" x2="656.5" y2="520.5" stroke="#c0c0c0" stroke-width="1"/>
<line x1="661.5" y1="407" x2="661.5" y2="408.5" stroke="#c0c0c0" stroke-width="1"/>
<line x1="661.5" y1="418.5" x2="661.5" y2="420" stroke="#c0c0c0" stroke-width="1"/>
<line x1="661.5" y1="519" x2="661.5" y2="520.5" stroke="#c0c0c0" stroke-width="1"/>
<line x1="666.5" y1="407" x2="666.5" y2="408.5" stroke="#c0c0c0" stroke-width="1"/>
<line x1="666.5" y1="418.5" x2="666.5" y2="420" stroke="#c0c0c0" stroke-width="1"/>
<line x1="666.5" y1="519" x2="666.5" y2="520.5" stroke="#c0c0c0" stroke-width="1"/>
<rect x="17" y="29.5" width="95" height="12" fill="#fff"/>
<path d="M19.3,39.2 L20.6,35.5 L22.3,32.6 L23.4,30.6 L25.2,36.2 L26.6,35 L27.6,32.6 L27.6,39.2 Z" fill="#7aab7a"/>
<path d="M19.3,39.2 L20.6,35.5 L22.3,32.6 L23.4,30.6 L25.2,36.2 L26.6,35 L27.6,32.6 L27.6,39.2" fill="none" stroke="#111" stroke-width="1.3" stroke-linejoin="round"/>
<text x="31.5" y="39.7" font-size="10.2" fill="#333" font-family="'DejaVu Sans Mono', 'Liberation Mono', monospace" textLength="80" lengthAdjust="spacingAndGlyphs" stroke="#333" stroke-width="0.25">RSI(14) 63.80</text>
<text x="16.0" y="417.2" font-size="11" fill="#111" font-family="'Liberation Sans', Arial, sans-serif" text-anchor="middle" stroke="#111" stroke-width="0.3">28</text>
<text x="16.0" y="529" font-size="11" fill="#111" font-family="'Liberation Sans', Arial, sans-serif" text-anchor="middle" stroke="#111" stroke-width="0.3">28</text>
<text x="37.1" y="417.2" font-size="11.3" font-weight="bold" fill="#111" font-family="'Liberation Sans', Arial, sans-serif" text-anchor="middle" stroke="#111" stroke-width="0.3">Apr</text>
<text x="37.1" y="529" font-size="11.3" font-weight="bold" fill="#111" font-family="'Liberation Sans', Arial, sans-serif" text-anchor="middle" stroke="#111" stroke-width="0.3">Apr</text>
<text x="66.0" y="417.2" font-size="11" fill="#111" font-family="'Liberation Sans', Arial, sans-serif" text-anchor="middle" stroke="#111" stroke-width="0.3">11</text>
<text x="66.0" y="529" font-size="11" fill="#111" font-family="'Liberation Sans', Arial, sans-serif" text-anchor="middle" stroke="#111" stroke-width="0.3">11</text>
<text x="86.0" y="417.2" font-size="11" fill="#111" font-family="'Liberation Sans', Arial, sans-serif" text-anchor="middle" stroke="#111" stroke-width="0.3">18</text>
<text x="86.0" y="529" font-size="11" fill="#111" font-family="'Liberation Sans', Arial, sans-serif" text-anchor="middle" stroke="#111" stroke-width="0.3">18</text>
<text x="112.0" y="417.2" font-size="11" fill="#111" font-family="'Liberation Sans', Arial, sans-serif" text-anchor="middle" stroke="#111" stroke-width="0.3">25</text>
<text x="112.0" y="529" font-size="11" fill="#111" font-family="'Liberation Sans', Arial, sans-serif" text-anchor="middle" stroke="#111" stroke-width="0.3">25</text>
<text x="138.1" y="417.2" font-size="11.3" font-weight="bold" fill="#111" font-family="'Liberation Sans', Arial, sans-serif" text-anchor="middle" stroke="#111" stroke-width="0.3">May</text>
<text x="138.1" y="529" font-size="11.3" font-weight="bold" fill="#111" font-family="'Liberation Sans', Arial, sans-serif" text-anchor="middle" stroke="#111" stroke-width="0.3">May</text>
<text x="162.0" y="417.2" font-size="11" fill="#111" font-family="'Liberation Sans', Arial, sans-serif" text-anchor="middle" stroke="#111" stroke-width="0.3">9</text>
<text x="162.0" y="529" font-size="11" fill="#111" font-family="'Liberation Sans', Arial, sans-serif" text-anchor="middle" stroke="#111" stroke-width="0.3">9</text>
<text x="187.0" y="417.2" font-size="11" fill="#111" font-family="'Liberation Sans', Arial, sans-serif" text-anchor="middle" stroke="#111" stroke-width="0.3">16</text>
<text x="187.0" y="529" font-size="11" fill="#111" font-family="'Liberation Sans', Arial, sans-serif" text-anchor="middle" stroke="#111" stroke-width="0.3">16</text>
<text x="212.0" y="417.2" font-size="11" fill="#111" font-family="'Liberation Sans', Arial, sans-serif" text-anchor="middle" stroke="#111" stroke-width="0.3">23</text>
<text x="212.0" y="529" font-size="11" fill="#111" font-family="'Liberation Sans', Arial, sans-serif" text-anchor="middle" stroke="#111" stroke-width="0.3">23</text>
<text x="244.1" y="417.2" font-size="11.3" font-weight="bold" fill="#111" font-family="'Liberation Sans', Arial, sans-serif" text-anchor="middle" stroke="#111" stroke-width="0.3">Jun</text>
<text x="244.1" y="529" font-size="11.3" font-weight="bold" fill="#111" font-family="'Liberation Sans', Arial, sans-serif" text-anchor="middle" stroke="#111" stroke-width="0.3">Jun</text>
<text x="258.0" y="417.2" font-size="11" fill="#111" font-family="'Liberation Sans', Arial, sans-serif" text-anchor="middle" stroke="#111" stroke-width="0.3">6</text>
<text x="258.0" y="529" font-size="11" fill="#111" font-family="'Liberation Sans', Arial, sans-serif" text-anchor="middle" stroke="#111" stroke-width="0.3">6</text>
<text x="283.0" y="417.2" font-size="11" fill="#111" font-family="'Liberation Sans', Arial, sans-serif" text-anchor="middle" stroke="#111" stroke-width="0.3">13</text>
<text x="283.0" y="529" font-size="11" fill="#111" font-family="'Liberation Sans', Arial, sans-serif" text-anchor="middle" stroke="#111" stroke-width="0.3">13</text>
<text x="308.0" y="417.2" font-size="11" fill="#111" font-family="'Liberation Sans', Arial, sans-serif" text-anchor="middle" stroke="#111" stroke-width="0.3">21</text>
<text x="308.0" y="529" font-size="11" fill="#111" font-family="'Liberation Sans', Arial, sans-serif" text-anchor="middle" stroke="#111" stroke-width="0.3">21</text>
<text x="328.0" y="417.2" font-size="11" fill="#111" font-family="'Liberation Sans', Arial, sans-serif" text-anchor="middle" stroke="#111" stroke-width="0.3">27</text>
<text x="328.0" y="529" font-size="11" fill="#111" font-family="'Liberation Sans', Arial, sans-serif" text-anchor="middle" stroke="#111" stroke-width="0.3">27</text>
<text x="349.1" y="417.2" font-size="11.3" font-weight="bold" fill="#111" font-family="'Liberation Sans', Arial, sans-serif" text-anchor="middle" stroke="#111" stroke-width="0.3">Jul</text>
<text x="349.1" y="529" font-size="11.3" font-weight="bold" fill="#111" font-family="'Liberation Sans', Arial, sans-serif" text-anchor="middle" stroke="#111" stroke-width="0.3">Jul</text>
<text x="374.0" y="417.2" font-size="11" fill="#111" font-family="'Liberation Sans', Arial, sans-serif" text-anchor="middle" stroke="#111" stroke-width="0.3">11</text>
<text x="374.0" y="529" font-size="11" fill="#111" font-family="'Liberation Sans', Arial, sans-serif" text-anchor="middle" stroke="#111" stroke-width="0.3">11</text>
<text x="399.0" y="417.2" font-size="11" fill="#111" font-family="'Liberation Sans', Arial, sans-serif" text-anchor="middle" stroke="#111" stroke-width="0.3">18</text>
<text x="399.0" y="529" font-size="11" fill="#111" font-family="'Liberation Sans', Arial, sans-serif" text-anchor="middle" stroke="#111" stroke-width="0.3">18</text>
<text x="424.0" y="417.2" font-size="11" fill="#111" font-family="'Liberation Sans', Arial, sans-serif" text-anchor="middle" stroke="#111" stroke-width="0.3">25</text>
<text x="424.0" y="529" font-size="11" fill="#111" font-family="'Liberation Sans', Arial, sans-serif" text-anchor="middle" stroke="#111" stroke-width="0.3">25</text>
<text x="450.1" y="417.2" font-size="11.3" font-weight="bold" fill="#111" font-family="'Liberation Sans', Arial, sans-serif" text-anchor="middle" stroke="#111" stroke-width="0.3">Aug</text>
<text x="450.1" y="529" font-size="11.3" font-weight="bold" fill="#111" font-family="'Liberation Sans', Arial, sans-serif" text-anchor="middle" stroke="#111" stroke-width="0.3">Aug</text>
<text x="474.0" y="417.2" font-size="11" fill="#111" font-family="'Liberation Sans', Arial, sans-serif" text-anchor="middle" stroke="#111" stroke-width="0.3">8</text>
<text x="474.0" y="529" font-size="11" fill="#111" font-family="'Liberation Sans', Arial, sans-serif" text-anchor="middle" stroke="#111" stroke-width="0.3">8</text>
<text x="500.0" y="417.2" font-size="11" fill="#111" font-family="'Liberation Sans', Arial, sans-serif" text-anchor="middle" stroke="#111" stroke-width="0.3">15</text>
<text x="500.0" y="529" font-size="11" fill="#111" font-family="'Liberation Sans', Arial, sans-serif" text-anchor="middle" stroke="#111" stroke-width="0.3">15</text>
<text x="525.0" y="417.2" font-size="11" fill="#111" font-family="'Liberation Sans', Arial, sans-serif" text-anchor="middle" stroke="#111" stroke-width="0.3">22</text>
<text x="525.0" y="529" font-size="11" fill="#111" font-family="'Liberation Sans', Arial, sans-serif" text-anchor="middle" stroke="#111" stroke-width="0.3">22</text>
<text x="548.8" y="417.2" font-size="11" fill="#111" font-family="'Liberation Sans', Arial, sans-serif" text-anchor="middle" stroke="#111" stroke-width="0.3">29</text>
<text x="548.8" y="529" font-size="11" fill="#111" font-family="'Liberation Sans', Arial, sans-serif" text-anchor="middle" stroke="#111" stroke-width="0.3">29</text>
<text x="566.1" y="417.2" font-size="11.3" font-weight="bold" fill="#111" font-family="'Liberation Sans', Arial, sans-serif" text-anchor="middle" stroke="#111" stroke-width="0.3">Sep</text>
<text x="566.1" y="529" font-size="11.3" font-weight="bold" fill="#111" font-family="'Liberation Sans', Arial, sans-serif" text-anchor="middle" stroke="#111" stroke-width="0.3">Sep</text>
<text x="595.0" y="417.2" font-size="11" fill="#111" font-family="'Liberation Sans', Arial, sans-serif" text-anchor="middle" stroke="#111" stroke-width="0.3">12</text>
<text x="595.0" y="529" font-size="11" fill="#111" font-family="'Liberation Sans', Arial, sans-serif" text-anchor="middle" stroke="#111" stroke-width="0.3">12</text>
<text x="621.0" y="417.2" font-size="11" fill="#111" font-family="'Liberation Sans', Arial, sans-serif" text-anchor="middle" stroke="#111" stroke-width="0.3">19</text>
<text x="621.0" y="529" font-size="11" fill="#111" font-family="'Liberation Sans', Arial, sans-serif" text-anchor="middle" stroke="#111" stroke-width="0.3">19</text>
<text x="646.0" y="417.2" font-size="11" fill="#111" font-family="'Liberation Sans', Arial, sans-serif" text-anchor="middle" stroke="#111" stroke-width="0.3">26</text>
<text x="646.0" y="529" font-size="11" fill="#111" font-family="'Liberation Sans', Arial, sans-serif" text-anchor="middle" stroke="#111" stroke-width="0.3">26</text>
<line x1="41.5" y1="531.5" x2="41.5" y2="533" stroke="#d8d8d8" stroke-width="1"/>
<line x1="66.5" y1="531.5" x2="66.5" y2="533" stroke="#d8d8d8" stroke-width="1"/>
<line x1="86.5" y1="531.5" x2="86.5" y2="533" stroke="#d8d8d8" stroke-width="1"/>
<line x1="112.5" y1="531.5" x2="112.5" y2="533" stroke="#d8d8d8" stroke-width="1"/>
<line x1="137.5" y1="531.5" x2="137.5" y2="533" stroke="#d8d8d8" stroke-width="1"/>
<line x1="162.5" y1="531.5" x2="162.5" y2="533" stroke="#d8d8d8" stroke-width="1"/>
<line x1="187.5" y1="531.5" x2="187.5" y2="533" stroke="#d8d8d8" stroke-width="1"/>
<line x1="212.5" y1="531.5" x2="212.5" y2="533" stroke="#d8d8d8" stroke-width="1"/>
<line x1="238.5" y1="531.5" x2="238.5" y2="533" stroke="#d8d8d8" stroke-width="1"/>
<line x1="258.5" y1="531.5" x2="258.5" y2="533" stroke="#d8d8d8" stroke-width="1"/>
<line x1="283.5" y1="531.5" x2="283.5" y2="533" stroke="#d8d8d8" stroke-width="1"/>
<line x1="308.5" y1="531.5" x2="308.5" y2="533" stroke="#d8d8d8" stroke-width="1"/>
<line x1="328.5" y1="531.5" x2="328.5" y2="533" stroke="#d8d8d8" stroke-width="1"/>
<line x1="353.5" y1="531.5" x2="353.5" y2="533" stroke="#d8d8d8" stroke-width="1"/>
<line x1="374.5" y1="531.5" x2="374.5" y2="533" stroke="#d8d8d8" stroke-width="1"/>
<line x1="399.5" y1="531.5" x2="399.5" y2="533" stroke="#d8d8d8" stroke-width="1"/>
<line x1="424.5" y1="531.5" x2="424.5" y2="533" stroke="#d8d8d8" stroke-width="1"/>
<line x1="449.5" y1="531.5" x2="449.5" y2="533" stroke="#d8d8d8" stroke-width="1"/>
<line x1="474.5" y1="531.5" x2="474.5" y2="533" stroke="#d8d8d8" stroke-width="1"/>
<line x1="500.5" y1="531.5" x2="500.5" y2="533" stroke="#d8d8d8" stroke-width="1"/>
<line x1="525.5" y1="531.5" x2="525.5" y2="533" stroke="#d8d8d8" stroke-width="1"/>
<line x1="550.5" y1="531.5" x2="550.5" y2="533" stroke="#d8d8d8" stroke-width="1"/>
<line x1="575.5" y1="531.5" x2="575.5" y2="533" stroke="#d8d8d8" stroke-width="1"/>
<line x1="595.5" y1="531.5" x2="595.5" y2="533" stroke="#d8d8d8" stroke-width="1"/>
<line x1="621.5" y1="531.5" x2="621.5" y2="533" stroke="#d8d8d8" stroke-width="1"/>
<line x1="646.5" y1="531.5" x2="646.5" y2="533" stroke="#d8d8d8" stroke-width="1"/>
<line x1="36.5" y1="531.5" x2="36.5" y2="533" stroke="#d8d8d8" stroke-width="1"/>
<line x1="137.5" y1="531.5" x2="137.5" y2="533" stroke="#d8d8d8" stroke-width="1"/>
<line x1="243.5" y1="531.5" x2="243.5" y2="533" stroke="#d8d8d8" stroke-width="1"/>
<line x1="348.5" y1="531.5" x2="348.5" y2="533" stroke="#d8d8d8" stroke-width="1"/>
<line x1="449.5" y1="531.5" x2="449.5" y2="533" stroke="#d8d8d8" stroke-width="1"/>
<line x1="565.5" y1="531.5" x2="565.5" y2="533" stroke="#d8d8d8" stroke-width="1"/>
<path d="M671,65.6 L675,60.599999999999994 L704.5,60.599999999999994 L704.5,70.8 L675,70.8 Z" fill="#fff" stroke="#444" stroke-width="1.5"/>
<text x="676" y="69.39999999999999" font-size="11" fill="#111" font-family="'Liberation Sans', Arial, sans-serif" textLength="26" lengthAdjust="spacingAndGlyphs" stroke="#111" stroke-width="0.25">63.80</text>
<path d="M671,189.8 L675,184.8 L704.5,184.8 L704.5,195.0 L675,195.0 Z" fill="#fff" stroke="#333" stroke-width="1.6"/>
<text x="676" y="193.60000000000002" font-size="11" font-weight="bold" fill="#111" font-family="'Liberation Sans', Arial, sans-serif" textLength="26" lengthAdjust="spacingAndGlyphs">31.62</text>
<path d="M671,274.3 L675,269.3 L704.5,269.3 L704.5,279.5 L675,279.5 Z" fill="#fff" stroke="#d8234c" stroke-width="1.3"/>
<text x="676" y="278.1" font-size="11" fill="#111" font-family="'Liberation Sans', Arial, sans-serif" textLength="26" lengthAdjust="spacingAndGlyphs" stroke="#111" stroke-width="0.25">25.40</text>
<path d="M671,289.4 L675,284.4 L704.5,284.4 L704.5,294.59999999999997 L675,294.59999999999997 Z" fill="#fff" stroke="#2b2ba6" stroke-width="1.3"/>
<text x="676" y="293.2" font-size="11" fill="#111" font-family="'Liberation Sans', Arial, sans-serif" textLength="26" lengthAdjust="spacingAndGlyphs" stroke="#111" stroke-width="0.25">24.47</text>
<path d="M671,439.2 L675,434.2 L704.5,434.2 L704.5,444.4 L675,444.4 Z" fill="#fff" stroke="#f23a3a" stroke-width="1.3"/>
<text x="676" y="443.0" font-size="11" fill="#111" font-family="'Liberation Sans', Arial, sans-serif" textLength="26" lengthAdjust="spacingAndGlyphs" stroke="#111" stroke-width="0.25">1.569</text>
<path d="M671,430.5 L675,425.5 L704.5,425.5 L704.5,435.7 L675,435.7 Z" fill="#fff" stroke="#222" stroke-width="1.3"/>
<text x="676" y="434.3" font-size="11" fill="#111" font-family="'Liberation Sans', Arial, sans-serif" textLength="26" lengthAdjust="spacingAndGlyphs" stroke="#111" stroke-width="0.25">2.029</text>
<path d="M671,458.6 L675,453.6 L704.5,453.6 L704.5,463.8 L675,463.8 Z" fill="#fff" stroke="#3a78b8" stroke-width="1.3"/>
<text x="676" y="462.40000000000003" font-size="11" fill="#111" font-family="'Liberation Sans', Arial, sans-serif" textLength="26" lengthAdjust="spacingAndGlyphs" stroke="#111" stroke-width="0.25">0.460</text>
</svg></body></html>
